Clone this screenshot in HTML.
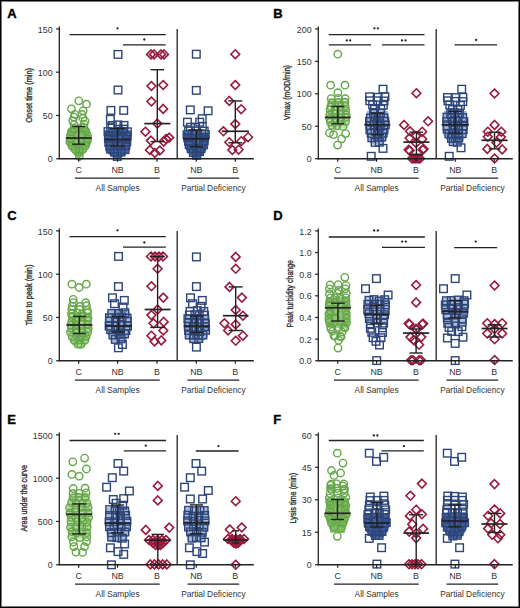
<!DOCTYPE html>
<html><head><meta charset="utf-8"><style>
html,body{margin:0;padding:0;background:#fff;}
svg{display:block;}
text{font-family:"Liberation Sans",sans-serif;}
</style></head><body>
<svg width="520" height="608" viewBox="0 0 520 608">
<g fill="none" stroke-width="1.4">
<rect x="0" y="0" width="520" height="608" fill="#fff" stroke="none"/>
<path d="M69.7 128.0L67.9 130.0L67.4 138.0L66.7 142.0L69.2 148.0L72.6 152.0L75.9 156.0L78.1 158.0L79.3 158.0L81.5 156.0L84.8 152.0L88.2 148.0L90.7 142.0L90.0 138.0L89.5 130.0L87.8 128.0Z" fill="#82bf64" stroke="#82bf64" stroke-width="1.5" stroke-linejoin="round" opacity="1.0"/>
<circle cx="74.8" cy="114.3" r="3.7" stroke="#66a64a"/>
<circle cx="82.0" cy="114.4" r="3.7" stroke="#66a64a"/>
<circle cx="73.9" cy="117.1" r="3.7" stroke="#66a64a"/>
<circle cx="82.9" cy="118.2" r="3.7" stroke="#66a64a"/>
<circle cx="72.8" cy="120.8" r="3.7" stroke="#66a64a"/>
<circle cx="85.0" cy="121.1" r="3.7" stroke="#66a64a"/>
<circle cx="74.1" cy="124.6" r="3.7" stroke="#66a64a"/>
<circle cx="84.1" cy="124.1" r="3.7" stroke="#66a64a"/>
<circle cx="74.2" cy="128.6" r="3.7" stroke="#66a64a"/>
<circle cx="78.7" cy="128.4" r="3.7" stroke="#66a64a"/>
<circle cx="83.7" cy="127.5" r="3.7" stroke="#66a64a"/>
<circle cx="72.0" cy="131.7" r="3.7" stroke="#66a64a"/>
<circle cx="85.5" cy="130.9" r="3.7" stroke="#66a64a"/>
<circle cx="70.5" cy="135.3" r="3.7" stroke="#66a64a"/>
<circle cx="87.5" cy="135.3" r="3.7" stroke="#66a64a"/>
<circle cx="82.1" cy="134.9" r="3.7" stroke="#66a64a"/>
<circle cx="70.8" cy="138.4" r="3.7" stroke="#66a64a"/>
<circle cx="87.8" cy="139.0" r="3.7" stroke="#66a64a"/>
<circle cx="69.8" cy="141.9" r="3.7" stroke="#66a64a"/>
<circle cx="86.5" cy="142.2" r="3.7" stroke="#66a64a"/>
<circle cx="76.4" cy="142.4" r="3.7" stroke="#66a64a"/>
<circle cx="71.9" cy="145.9" r="3.7" stroke="#66a64a"/>
<circle cx="85.5" cy="145.4" r="3.7" stroke="#66a64a"/>
<circle cx="75.1" cy="149.4" r="3.7" stroke="#66a64a"/>
<circle cx="82.8" cy="149.5" r="3.7" stroke="#66a64a"/>
<circle cx="79.3" cy="149.5" r="3.7" stroke="#66a64a"/>
<circle cx="79.0" cy="151.8" r="3.7" stroke="#66a64a"/>
<circle cx="79.3" cy="156.4" r="3.7" stroke="#66a64a"/>
<circle cx="78.8" cy="100.8" r="3.7" stroke="#66a64a"/>
<circle cx="86.5" cy="104.2" r="3.7" stroke="#66a64a"/>
<circle cx="71.5" cy="108.8" r="3.7" stroke="#66a64a"/>
<circle cx="83.1" cy="110.8" r="3.7" stroke="#66a64a"/>
<line x1="78.70" y1="126.50" x2="78.70" y2="144.20" stroke="#222" stroke-width="1.4"/>
<line x1="72.20" y1="126.50" x2="85.20" y2="126.50" stroke="#222" stroke-width="1.4"/>
<line x1="72.20" y1="144.20" x2="85.20" y2="144.20" stroke="#222" stroke-width="1.4"/>
<line x1="65.70" y1="138.00" x2="91.70" y2="138.00" stroke="#222" stroke-width="1.7"/>
<path d="M105.2 131.0L104.8 138.0L106.3 141.0L106.3 150.0L108.3 153.0L113.3 156.0L115.8 158.0L119.4 158.0L121.9 156.0L126.9 153.0L128.9 150.0L128.9 141.0L130.4 138.0L130.0 131.0Z" fill="#42619d" stroke="#42619d" stroke-width="1.5" stroke-linejoin="round" opacity="1.0"/>
<rect x="108.5" y="121.6" width="7.6" height="7.6" stroke="#2d4579"/>
<rect x="114.1" y="121.1" width="7.6" height="7.6" stroke="#2d4579"/>
<rect x="120.2" y="121.6" width="7.6" height="7.6" stroke="#2d4579"/>
<rect x="106.8" y="124.3" width="7.6" height="7.6" stroke="#2d4579"/>
<rect x="114.4" y="125.5" width="7.6" height="7.6" stroke="#2d4579"/>
<rect x="119.8" y="125.3" width="7.6" height="7.6" stroke="#2d4579"/>
<rect x="104.2" y="127.8" width="7.6" height="7.6" stroke="#2d4579"/>
<rect x="108.8" y="128.6" width="7.6" height="7.6" stroke="#2d4579"/>
<rect x="114.4" y="127.6" width="7.6" height="7.6" stroke="#2d4579"/>
<rect x="118.7" y="127.6" width="7.6" height="7.6" stroke="#2d4579"/>
<rect x="123.6" y="128.0" width="7.6" height="7.6" stroke="#2d4579"/>
<rect x="104.8" y="132.3" width="7.6" height="7.6" stroke="#2d4579"/>
<rect x="123.4" y="132.3" width="7.6" height="7.6" stroke="#2d4579"/>
<rect x="104.6" y="134.5" width="7.6" height="7.6" stroke="#2d4579"/>
<rect x="122.3" y="135.6" width="7.6" height="7.6" stroke="#2d4579"/>
<rect x="114.6" y="134.7" width="7.6" height="7.6" stroke="#2d4579"/>
<rect x="105.0" y="138.7" width="7.6" height="7.6" stroke="#2d4579"/>
<rect x="123.0" y="138.2" width="7.6" height="7.6" stroke="#2d4579"/>
<rect x="106.1" y="142.3" width="7.6" height="7.6" stroke="#2d4579"/>
<rect x="122.0" y="141.7" width="7.6" height="7.6" stroke="#2d4579"/>
<rect x="116.6" y="142.0" width="7.6" height="7.6" stroke="#2d4579"/>
<rect x="106.6" y="145.2" width="7.6" height="7.6" stroke="#2d4579"/>
<rect x="121.3" y="145.8" width="7.6" height="7.6" stroke="#2d4579"/>
<rect x="110.7" y="148.4" width="7.6" height="7.6" stroke="#2d4579"/>
<rect x="117.2" y="148.2" width="7.6" height="7.6" stroke="#2d4579"/>
<rect x="113.5" y="152.6" width="7.6" height="7.6" stroke="#2d4579"/>
<rect x="114.2" y="50.6" width="7.6" height="7.6" stroke="#2d4579"/>
<rect x="114.2" y="86.2" width="7.6" height="7.6" stroke="#2d4579"/>
<rect x="107.1" y="106.6" width="7.6" height="7.6" stroke="#2d4579"/>
<rect x="119.9" y="106.6" width="7.6" height="7.6" stroke="#2d4579"/>
<rect x="106.6" y="115.5" width="7.6" height="7.6" stroke="#2d4579"/>
<line x1="117.60" y1="128.40" x2="117.60" y2="146.00" stroke="#222" stroke-width="1.4"/>
<line x1="110.40" y1="128.40" x2="124.80" y2="128.40" stroke="#222" stroke-width="1.4"/>
<line x1="110.40" y1="146.00" x2="124.80" y2="146.00" stroke="#222" stroke-width="1.4"/>
<line x1="104.60" y1="139.60" x2="130.60" y2="139.60" stroke="#222" stroke-width="1.7"/>
<path d="M151.0 50.0L155.4 54.4L151.0 58.8L146.6 54.4Z" stroke="#961b3c" stroke-width="1.6"/>
<path d="M154.0 50.0L158.4 54.4L154.0 58.8L149.6 54.4Z" stroke="#961b3c" stroke-width="1.6"/>
<path d="M161.0 50.0L165.4 54.4L161.0 58.8L156.6 54.4Z" stroke="#961b3c" stroke-width="1.6"/>
<path d="M164.0 50.0L168.4 54.4L164.0 58.8L159.6 54.4Z" stroke="#961b3c" stroke-width="1.6"/>
<path d="M151.4 81.6L155.8 86.0L151.4 90.4L147.0 86.0Z" stroke="#961b3c" stroke-width="1.6"/>
<path d="M163.2 80.6L167.6 85.0L163.2 89.4L158.8 85.0Z" stroke="#961b3c" stroke-width="1.6"/>
<path d="M151.4 97.1L155.8 101.5L151.4 105.9L147.0 101.5Z" stroke="#961b3c" stroke-width="1.6"/>
<path d="M163.2 104.5L167.6 108.9L163.2 113.3L158.8 108.9Z" stroke="#961b3c" stroke-width="1.6"/>
<path d="M157.3 119.2L161.7 123.6L157.3 128.0L152.9 123.6Z" stroke="#961b3c" stroke-width="1.6"/>
<path d="M145.4 127.3L149.8 131.7L145.4 136.1L141.0 131.7Z" stroke="#961b3c" stroke-width="1.6"/>
<path d="M150.9 136.2L155.3 140.6L150.9 145.0L146.5 140.6Z" stroke="#961b3c" stroke-width="1.6"/>
<path d="M163.7 137.2L168.1 141.6L163.7 146.0L159.3 141.6Z" stroke="#961b3c" stroke-width="1.6"/>
<path d="M169.2 133.2L173.6 137.6L169.2 142.0L164.8 137.6Z" stroke="#961b3c" stroke-width="1.6"/>
<path d="M149.9 145.6L154.3 150.0L149.9 154.4L145.5 150.0Z" stroke="#961b3c" stroke-width="1.6"/>
<path d="M154.8 148.6L159.2 153.0L154.8 157.4L150.4 153.0Z" stroke="#961b3c" stroke-width="1.6"/>
<path d="M159.8 146.1L164.2 150.5L159.8 154.9L155.4 150.5Z" stroke="#961b3c" stroke-width="1.6"/>
<path d="M166.0 134.6L170.4 139.0L166.0 143.4L161.6 139.0Z" stroke="#961b3c" stroke-width="1.6"/>
<line x1="157.30" y1="69.70" x2="157.30" y2="141.60" stroke="#222" stroke-width="1.4"/>
<line x1="150.60" y1="69.70" x2="164.00" y2="69.70" stroke="#222" stroke-width="1.4"/>
<line x1="150.60" y1="141.60" x2="164.00" y2="141.60" stroke="#222" stroke-width="1.4"/>
<line x1="144.30" y1="123.60" x2="170.30" y2="123.60" stroke="#222" stroke-width="1.7"/>
<path d="M184.3 133.0L184.3 138.0L185.5 142.0L187.0 150.0L191.0 155.0L193.5 158.0L199.1 158.0L201.6 155.0L205.6 150.0L207.1 142.0L208.3 138.0L208.3 133.0Z" fill="#42619d" stroke="#42619d" stroke-width="1.5" stroke-linejoin="round" opacity="1.0"/>
<rect x="186.6" y="123.5" width="7.6" height="7.6" stroke="#2d4579"/>
<rect x="191.7" y="123.4" width="7.6" height="7.6" stroke="#2d4579"/>
<rect x="198.5" y="122.8" width="7.6" height="7.6" stroke="#2d4579"/>
<rect x="184.8" y="127.2" width="7.6" height="7.6" stroke="#2d4579"/>
<rect x="191.8" y="127.2" width="7.6" height="7.6" stroke="#2d4579"/>
<rect x="200.4" y="127.3" width="7.6" height="7.6" stroke="#2d4579"/>
<rect x="183.2" y="130.9" width="7.6" height="7.6" stroke="#2d4579"/>
<rect x="188.3" y="129.9" width="7.6" height="7.6" stroke="#2d4579"/>
<rect x="191.8" y="130.8" width="7.6" height="7.6" stroke="#2d4579"/>
<rect x="197.8" y="130.2" width="7.6" height="7.6" stroke="#2d4579"/>
<rect x="201.5" y="130.7" width="7.6" height="7.6" stroke="#2d4579"/>
<rect x="183.9" y="134.0" width="7.6" height="7.6" stroke="#2d4579"/>
<rect x="200.5" y="134.0" width="7.6" height="7.6" stroke="#2d4579"/>
<rect x="184.7" y="137.5" width="7.6" height="7.6" stroke="#2d4579"/>
<rect x="200.4" y="137.0" width="7.6" height="7.6" stroke="#2d4579"/>
<rect x="195.1" y="138.0" width="7.6" height="7.6" stroke="#2d4579"/>
<rect x="185.4" y="140.9" width="7.6" height="7.6" stroke="#2d4579"/>
<rect x="199.8" y="140.9" width="7.6" height="7.6" stroke="#2d4579"/>
<rect x="187.4" y="145.0" width="7.6" height="7.6" stroke="#2d4579"/>
<rect x="197.2" y="145.0" width="7.6" height="7.6" stroke="#2d4579"/>
<rect x="193.2" y="145.1" width="7.6" height="7.6" stroke="#2d4579"/>
<rect x="189.5" y="148.8" width="7.6" height="7.6" stroke="#2d4579"/>
<rect x="195.8" y="147.8" width="7.6" height="7.6" stroke="#2d4579"/>
<rect x="192.9" y="151.5" width="7.6" height="7.6" stroke="#2d4579"/>
<rect x="192.5" y="50.4" width="7.6" height="7.6" stroke="#2d4579"/>
<rect x="192.5" y="86.6" width="7.6" height="7.6" stroke="#2d4579"/>
<rect x="186.5" y="106.1" width="7.6" height="7.6" stroke="#2d4579"/>
<rect x="204.3" y="107.0" width="7.6" height="7.6" stroke="#2d4579"/>
<rect x="198.4" y="114.9" width="7.6" height="7.6" stroke="#2d4579"/>
<rect x="183.6" y="118.4" width="7.6" height="7.6" stroke="#2d4579"/>
<rect x="195.9" y="118.4" width="7.6" height="7.6" stroke="#2d4579"/>
<line x1="196.30" y1="130.00" x2="196.30" y2="146.70" stroke="#222" stroke-width="1.4"/>
<line x1="189.80" y1="130.00" x2="202.80" y2="130.00" stroke="#222" stroke-width="1.4"/>
<line x1="189.80" y1="146.70" x2="202.80" y2="146.70" stroke="#222" stroke-width="1.4"/>
<line x1="183.30" y1="138.90" x2="209.30" y2="138.90" stroke="#222" stroke-width="1.7"/>
<path d="M235.3 49.8L239.7 54.2L235.3 58.6L230.9 54.2Z" stroke="#961b3c" stroke-width="1.6"/>
<path d="M235.3 80.6L239.7 85.0L235.3 89.4L230.9 85.0Z" stroke="#961b3c" stroke-width="1.6"/>
<path d="M229.3 96.5L233.7 100.9L229.3 105.3L224.9 100.9Z" stroke="#961b3c" stroke-width="1.6"/>
<path d="M241.2 104.8L245.6 109.2L241.2 113.6L236.8 109.2Z" stroke="#961b3c" stroke-width="1.6"/>
<path d="M235.3 119.6L239.7 124.0L235.3 128.4L230.9 124.0Z" stroke="#961b3c" stroke-width="1.6"/>
<path d="M223.4 126.9L227.8 131.3L223.4 135.7L219.0 131.3Z" stroke="#961b3c" stroke-width="1.6"/>
<path d="M248.1 132.8L252.5 137.2L248.1 141.6L243.7 137.2Z" stroke="#961b3c" stroke-width="1.6"/>
<path d="M229.3 137.8L233.7 142.2L229.3 146.6L224.9 142.2Z" stroke="#961b3c" stroke-width="1.6"/>
<path d="M241.2 136.8L245.6 141.2L241.2 145.6L236.8 141.2Z" stroke="#961b3c" stroke-width="1.6"/>
<path d="M232.3 145.6L236.7 150.0L232.3 154.4L227.9 150.0Z" stroke="#961b3c" stroke-width="1.6"/>
<path d="M238.6 145.3L243.0 149.7L238.6 154.1L234.2 149.7Z" stroke="#961b3c" stroke-width="1.6"/>
<line x1="235.30" y1="100.90" x2="235.30" y2="142.80" stroke="#222" stroke-width="1.4"/>
<line x1="228.30" y1="100.90" x2="242.30" y2="100.90" stroke="#222" stroke-width="1.4"/>
<line x1="228.30" y1="142.80" x2="242.30" y2="142.80" stroke="#222" stroke-width="1.4"/>
<line x1="221.80" y1="131.30" x2="248.80" y2="131.30" stroke="#222" stroke-width="1.7"/>
<text x="7.20" y="18.40" font-size="13" text-anchor="start" font-weight="bold" fill="#000" stroke="#000" stroke-width="0.35">A</text>
<line x1="59.30" y1="26.40" x2="59.30" y2="159.35" stroke="#222" stroke-width="1.3"/>
<line x1="58.70" y1="158.75" x2="253.80" y2="158.75" stroke="#222" stroke-width="1.3"/>
<line x1="56.10" y1="158.75" x2="59.30" y2="158.75" stroke="#222" stroke-width="1.2"/>
<text x="52.60" y="162.35" font-size="8.9" text-anchor="end" font-weight="normal" fill="#333" >0</text>
<line x1="56.10" y1="115.47" x2="59.30" y2="115.47" stroke="#222" stroke-width="1.2"/>
<text x="52.60" y="119.07" font-size="8.9" text-anchor="end" font-weight="normal" fill="#333" >50</text>
<line x1="56.10" y1="72.18" x2="59.30" y2="72.18" stroke="#222" stroke-width="1.2"/>
<text x="52.60" y="75.78" font-size="8.9" text-anchor="end" font-weight="normal" fill="#333" >100</text>
<line x1="56.10" y1="28.90" x2="59.30" y2="28.90" stroke="#222" stroke-width="1.2"/>
<text x="52.60" y="32.50" font-size="8.9" text-anchor="end" font-weight="normal" fill="#333" >150</text>
<line x1="78.70" y1="158.75" x2="78.70" y2="161.75" stroke="#222" stroke-width="1.2"/>
<text x="78.70" y="172.60" font-size="8.9" text-anchor="middle" font-weight="normal" fill="#333" >C</text>
<line x1="117.60" y1="158.75" x2="117.60" y2="161.75" stroke="#222" stroke-width="1.2"/>
<text x="117.60" y="172.60" font-size="8.9" text-anchor="middle" font-weight="normal" fill="#333" >NB</text>
<line x1="157.00" y1="158.75" x2="157.00" y2="161.75" stroke="#222" stroke-width="1.2"/>
<text x="157.00" y="172.60" font-size="8.9" text-anchor="middle" font-weight="normal" fill="#333" >B</text>
<line x1="196.30" y1="158.75" x2="196.30" y2="161.75" stroke="#222" stroke-width="1.2"/>
<text x="196.30" y="172.60" font-size="8.9" text-anchor="middle" font-weight="normal" fill="#333" >NB</text>
<line x1="235.30" y1="158.75" x2="235.30" y2="161.75" stroke="#222" stroke-width="1.2"/>
<text x="235.30" y="172.60" font-size="8.9" text-anchor="middle" font-weight="normal" fill="#333" >B</text>
<line x1="177.20" y1="28.90" x2="177.20" y2="158.75" stroke="#222" stroke-width="1.3"/>
<line x1="75.00" y1="178.10" x2="159.70" y2="178.10" stroke="#222" stroke-width="1.3"/>
<text x="117.60" y="191.30" font-size="8.35" text-anchor="middle" font-weight="normal" fill="#333" >All Samples</text>
<line x1="187.50" y1="178.10" x2="239.20" y2="178.10" stroke="#222" stroke-width="1.3"/>
<text x="213.40" y="191.30" font-size="8.35" text-anchor="middle" font-weight="normal" fill="#333" >Partial Deficiency</text>
<text transform="translate(32.30,95.30) rotate(-90)" font-size="9.4" text-anchor="middle" fill="#333" stroke="#333" stroke-width="0.35" textLength="54.7" lengthAdjust="spacingAndGlyphs">Onset time (min)</text>
<line x1="69.50" y1="34.60" x2="165.70" y2="34.60" stroke="#222" stroke-width="1.3"/>
<circle cx="117.5" cy="28.3" r="1.15" fill="#222"/>
<line x1="123.00" y1="44.90" x2="165.70" y2="44.90" stroke="#222" stroke-width="1.3"/>
<circle cx="144.3" cy="39.5" r="1.15" fill="#222"/>
<path d="M328.3 99.0L328.5 100.0L327.2 108.0L326.6 117.0L327.2 125.0L329.2 128.0L346.4 128.0L348.4 125.0L349.0 117.0L348.4 108.0L347.1 100.0L347.3 99.0Z" fill="#9fcf85" stroke="#9fcf85" stroke-width="1.5" stroke-linejoin="round" opacity="0.6"/>
<circle cx="331.2" cy="98.6" r="3.7" stroke="#66a64a"/>
<circle cx="338.3" cy="98.3" r="3.7" stroke="#66a64a"/>
<circle cx="345.2" cy="98.7" r="3.7" stroke="#66a64a"/>
<circle cx="331.8" cy="102.9" r="3.7" stroke="#66a64a"/>
<circle cx="338.4" cy="102.5" r="3.7" stroke="#66a64a"/>
<circle cx="344.9" cy="102.2" r="3.7" stroke="#66a64a"/>
<circle cx="330.8" cy="106.7" r="3.7" stroke="#66a64a"/>
<circle cx="335.3" cy="106.6" r="3.7" stroke="#66a64a"/>
<circle cx="340.7" cy="106.5" r="3.7" stroke="#66a64a"/>
<circle cx="345.2" cy="106.3" r="3.7" stroke="#66a64a"/>
<circle cx="330.1" cy="109.8" r="3.7" stroke="#66a64a"/>
<circle cx="335.1" cy="110.0" r="3.7" stroke="#66a64a"/>
<circle cx="340.4" cy="110.9" r="3.7" stroke="#66a64a"/>
<circle cx="345.8" cy="110.4" r="3.7" stroke="#66a64a"/>
<circle cx="329.8" cy="114.9" r="3.7" stroke="#66a64a"/>
<circle cx="335.5" cy="113.6" r="3.7" stroke="#66a64a"/>
<circle cx="340.4" cy="114.6" r="3.7" stroke="#66a64a"/>
<circle cx="346.2" cy="114.9" r="3.7" stroke="#66a64a"/>
<circle cx="329.7" cy="118.7" r="3.7" stroke="#66a64a"/>
<circle cx="335.7" cy="118.6" r="3.7" stroke="#66a64a"/>
<circle cx="341.3" cy="117.6" r="3.7" stroke="#66a64a"/>
<circle cx="345.5" cy="117.5" r="3.7" stroke="#66a64a"/>
<circle cx="330.4" cy="122.0" r="3.7" stroke="#66a64a"/>
<circle cx="334.7" cy="122.5" r="3.7" stroke="#66a64a"/>
<circle cx="340.3" cy="121.3" r="3.7" stroke="#66a64a"/>
<circle cx="345.6" cy="121.4" r="3.7" stroke="#66a64a"/>
<circle cx="332.0" cy="125.4" r="3.7" stroke="#66a64a"/>
<circle cx="337.0" cy="125.8" r="3.7" stroke="#66a64a"/>
<circle cx="342.9" cy="126.4" r="3.7" stroke="#66a64a"/>
<circle cx="330.6" cy="85.2" r="3.7" stroke="#66a64a"/>
<circle cx="345.0" cy="85.2" r="3.7" stroke="#66a64a"/>
<circle cx="337.9" cy="92.7" r="3.7" stroke="#66a64a"/>
<circle cx="337.8" cy="54.2" r="3.7" stroke="#66a64a"/>
<circle cx="329.5" cy="133.0" r="3.7" stroke="#66a64a"/>
<circle cx="345.6" cy="133.6" r="3.7" stroke="#66a64a"/>
<circle cx="333.5" cy="134.7" r="3.7" stroke="#66a64a"/>
<circle cx="341.6" cy="138.8" r="3.7" stroke="#66a64a"/>
<circle cx="337.6" cy="145.1" r="3.7" stroke="#66a64a"/>
<line x1="337.80" y1="106.50" x2="337.80" y2="123.80" stroke="#222" stroke-width="1.4"/>
<line x1="331.50" y1="106.50" x2="344.10" y2="106.50" stroke="#222" stroke-width="1.4"/>
<line x1="331.50" y1="123.80" x2="344.10" y2="123.80" stroke="#222" stroke-width="1.4"/>
<line x1="324.80" y1="117.40" x2="350.80" y2="117.40" stroke="#222" stroke-width="1.7"/>
<path d="M369.9 111.0L367.3 112.0L366.0 125.0L367.5 135.0L369.0 140.0L372.5 144.0L382.1 144.0L385.6 140.0L387.1 135.0L388.6 125.0L387.3 112.0L384.7 111.0Z" fill="#6482b8" stroke="#6482b8" stroke-width="1.5" stroke-linejoin="round" opacity="0.6"/>
<rect x="365.8" y="93.0" width="7.6" height="7.6" stroke="#2d4579"/>
<rect x="374.3" y="93.5" width="7.6" height="7.6" stroke="#2d4579"/>
<rect x="381.1" y="92.9" width="7.6" height="7.6" stroke="#2d4579"/>
<rect x="366.0" y="97.0" width="7.6" height="7.6" stroke="#2d4579"/>
<rect x="374.1" y="97.0" width="7.6" height="7.6" stroke="#2d4579"/>
<rect x="380.2" y="97.2" width="7.6" height="7.6" stroke="#2d4579"/>
<rect x="368.8" y="101.0" width="7.6" height="7.6" stroke="#2d4579"/>
<rect x="379.5" y="101.5" width="7.6" height="7.6" stroke="#2d4579"/>
<rect x="370.7" y="105.5" width="7.6" height="7.6" stroke="#2d4579"/>
<rect x="376.9" y="105.2" width="7.6" height="7.6" stroke="#2d4579"/>
<rect x="369.8" y="109.7" width="7.6" height="7.6" stroke="#2d4579"/>
<rect x="376.7" y="109.4" width="7.6" height="7.6" stroke="#2d4579"/>
<rect x="366.6" y="114.2" width="7.6" height="7.6" stroke="#2d4579"/>
<rect x="371.5" y="113.0" width="7.6" height="7.6" stroke="#2d4579"/>
<rect x="375.2" y="113.7" width="7.6" height="7.6" stroke="#2d4579"/>
<rect x="380.1" y="114.0" width="7.6" height="7.6" stroke="#2d4579"/>
<rect x="365.7" y="117.7" width="7.6" height="7.6" stroke="#2d4579"/>
<rect x="370.4" y="117.1" width="7.6" height="7.6" stroke="#2d4579"/>
<rect x="375.9" y="117.6" width="7.6" height="7.6" stroke="#2d4579"/>
<rect x="381.0" y="117.4" width="7.6" height="7.6" stroke="#2d4579"/>
<rect x="366.4" y="121.7" width="7.6" height="7.6" stroke="#2d4579"/>
<rect x="370.3" y="121.1" width="7.6" height="7.6" stroke="#2d4579"/>
<rect x="376.5" y="122.2" width="7.6" height="7.6" stroke="#2d4579"/>
<rect x="381.5" y="121.1" width="7.6" height="7.6" stroke="#2d4579"/>
<rect x="366.1" y="126.0" width="7.6" height="7.6" stroke="#2d4579"/>
<rect x="371.1" y="126.0" width="7.6" height="7.6" stroke="#2d4579"/>
<rect x="375.2" y="126.3" width="7.6" height="7.6" stroke="#2d4579"/>
<rect x="380.1" y="126.0" width="7.6" height="7.6" stroke="#2d4579"/>
<rect x="367.4" y="129.6" width="7.6" height="7.6" stroke="#2d4579"/>
<rect x="374.2" y="129.7" width="7.6" height="7.6" stroke="#2d4579"/>
<rect x="379.2" y="129.4" width="7.6" height="7.6" stroke="#2d4579"/>
<rect x="368.0" y="134.0" width="7.6" height="7.6" stroke="#2d4579"/>
<rect x="374.0" y="133.5" width="7.6" height="7.6" stroke="#2d4579"/>
<rect x="378.0" y="133.2" width="7.6" height="7.6" stroke="#2d4579"/>
<rect x="371.3" y="138.6" width="7.6" height="7.6" stroke="#2d4579"/>
<rect x="375.5" y="138.4" width="7.6" height="7.6" stroke="#2d4579"/>
<rect x="379.2" y="85.4" width="7.6" height="7.6" stroke="#2d4579"/>
<rect x="379.2" y="144.6" width="7.6" height="7.6" stroke="#2d4579"/>
<rect x="367.4" y="152.5" width="7.6" height="7.6" stroke="#2d4579"/>
<line x1="377.30" y1="113.10" x2="377.30" y2="134.90" stroke="#222" stroke-width="1.4"/>
<line x1="370.80" y1="113.10" x2="383.80" y2="113.10" stroke="#222" stroke-width="1.4"/>
<line x1="370.80" y1="134.90" x2="383.80" y2="134.90" stroke="#222" stroke-width="1.4"/>
<line x1="364.30" y1="124.70" x2="390.30" y2="124.70" stroke="#222" stroke-width="1.7"/>
<path d="M416.4 88.8L420.8 93.2L416.4 97.6L412.0 93.2Z" stroke="#961b3c" stroke-width="1.6"/>
<path d="M404.1 120.5L408.5 124.9L404.1 129.3L399.7 124.9Z" stroke="#961b3c" stroke-width="1.6"/>
<path d="M428.1 116.9L432.5 121.3L428.1 125.7L423.7 121.3Z" stroke="#961b3c" stroke-width="1.6"/>
<path d="M410.0 126.9L414.4 131.3L410.0 135.7L405.6 131.3Z" stroke="#961b3c" stroke-width="1.6"/>
<path d="M422.2 127.3L426.6 131.7L422.2 136.1L417.8 131.7Z" stroke="#961b3c" stroke-width="1.6"/>
<path d="M409.6 133.7L414.0 138.1L409.6 142.5L405.2 138.1Z" stroke="#961b3c" stroke-width="1.6"/>
<path d="M422.2 134.6L426.6 139.0L422.2 143.4L417.8 139.0Z" stroke="#961b3c" stroke-width="1.6"/>
<path d="M408.7 145.4L413.1 149.8L408.7 154.2L404.3 149.8Z" stroke="#961b3c" stroke-width="1.6"/>
<path d="M409.7 146.2L414.1 150.6L409.7 155.0L405.3 150.6Z" stroke="#961b3c" stroke-width="1.6"/>
<path d="M423.6 144.5L428.0 148.9L423.6 153.3L419.2 148.9Z" stroke="#961b3c" stroke-width="1.6"/>
<path d="M422.6 145.3L427.0 149.7L422.6 154.1L418.2 149.7Z" stroke="#961b3c" stroke-width="1.6"/>
<path d="M416.0 131.6L420.4 136.0L416.0 140.4L411.6 136.0Z" stroke="#961b3c" stroke-width="1.6"/>
<path d="M416.0 138.6L420.4 143.0L416.0 147.4L411.6 143.0Z" stroke="#961b3c" stroke-width="1.6"/>
<path d="M412.0 154.1L416.4 158.5L412.0 162.9L407.6 158.5Z" stroke="#961b3c" stroke-width="1.6"/>
<path d="M414.0 154.1L418.4 158.5L414.0 162.9L409.6 158.5Z" stroke="#961b3c" stroke-width="1.6"/>
<path d="M416.0 154.1L420.4 158.5L416.0 162.9L411.6 158.5Z" stroke="#961b3c" stroke-width="1.6"/>
<path d="M418.0 154.1L422.4 158.5L418.0 162.9L413.6 158.5Z" stroke="#961b3c" stroke-width="1.6"/>
<path d="M420.0 154.1L424.4 158.5L420.0 162.9L415.6 158.5Z" stroke="#961b3c" stroke-width="1.6"/>
<line x1="416.40" y1="132.20" x2="416.40" y2="154.80" stroke="#222" stroke-width="1.4"/>
<line x1="409.60" y1="132.20" x2="423.20" y2="132.20" stroke="#222" stroke-width="1.4"/>
<line x1="409.60" y1="154.80" x2="423.20" y2="154.80" stroke="#222" stroke-width="1.4"/>
<line x1="403.40" y1="142.10" x2="429.40" y2="142.10" stroke="#222" stroke-width="1.7"/>
<path d="M447.4 111.0L444.4 112.0L444.4 135.0L447.9 140.0L450.9 144.0L459.5 144.0L462.5 140.0L466.0 135.0L466.0 112.0L463.0 111.0Z" fill="#6482b8" stroke="#6482b8" stroke-width="1.5" stroke-linejoin="round" opacity="0.6"/>
<rect x="443.7" y="93.7" width="7.6" height="7.6" stroke="#2d4579"/>
<rect x="452.1" y="93.8" width="7.6" height="7.6" stroke="#2d4579"/>
<rect x="459.1" y="93.5" width="7.6" height="7.6" stroke="#2d4579"/>
<rect x="444.1" y="97.0" width="7.6" height="7.6" stroke="#2d4579"/>
<rect x="451.1" y="97.6" width="7.6" height="7.6" stroke="#2d4579"/>
<rect x="459.0" y="97.8" width="7.6" height="7.6" stroke="#2d4579"/>
<rect x="446.0" y="101.2" width="7.6" height="7.6" stroke="#2d4579"/>
<rect x="456.6" y="101.6" width="7.6" height="7.6" stroke="#2d4579"/>
<rect x="448.6" y="105.8" width="7.6" height="7.6" stroke="#2d4579"/>
<rect x="454.1" y="106.0" width="7.6" height="7.6" stroke="#2d4579"/>
<rect x="446.9" y="110.1" width="7.6" height="7.6" stroke="#2d4579"/>
<rect x="450.6" y="109.1" width="7.6" height="7.6" stroke="#2d4579"/>
<rect x="455.6" y="109.9" width="7.6" height="7.6" stroke="#2d4579"/>
<rect x="443.2" y="113.4" width="7.6" height="7.6" stroke="#2d4579"/>
<rect x="448.1" y="114.4" width="7.6" height="7.6" stroke="#2d4579"/>
<rect x="454.1" y="113.7" width="7.6" height="7.6" stroke="#2d4579"/>
<rect x="458.9" y="113.8" width="7.6" height="7.6" stroke="#2d4579"/>
<rect x="442.9" y="117.8" width="7.6" height="7.6" stroke="#2d4579"/>
<rect x="448.8" y="118.2" width="7.6" height="7.6" stroke="#2d4579"/>
<rect x="453.5" y="117.1" width="7.6" height="7.6" stroke="#2d4579"/>
<rect x="460.1" y="117.9" width="7.6" height="7.6" stroke="#2d4579"/>
<rect x="443.4" y="122.0" width="7.6" height="7.6" stroke="#2d4579"/>
<rect x="449.5" y="121.4" width="7.6" height="7.6" stroke="#2d4579"/>
<rect x="454.2" y="122.4" width="7.6" height="7.6" stroke="#2d4579"/>
<rect x="459.4" y="122.4" width="7.6" height="7.6" stroke="#2d4579"/>
<rect x="443.3" y="125.4" width="7.6" height="7.6" stroke="#2d4579"/>
<rect x="449.5" y="126.3" width="7.6" height="7.6" stroke="#2d4579"/>
<rect x="454.8" y="125.7" width="7.6" height="7.6" stroke="#2d4579"/>
<rect x="459.4" y="125.9" width="7.6" height="7.6" stroke="#2d4579"/>
<rect x="445.1" y="130.1" width="7.6" height="7.6" stroke="#2d4579"/>
<rect x="448.5" y="129.7" width="7.6" height="7.6" stroke="#2d4579"/>
<rect x="454.4" y="129.4" width="7.6" height="7.6" stroke="#2d4579"/>
<rect x="458.4" y="129.8" width="7.6" height="7.6" stroke="#2d4579"/>
<rect x="447.6" y="134.5" width="7.6" height="7.6" stroke="#2d4579"/>
<rect x="451.5" y="134.4" width="7.6" height="7.6" stroke="#2d4579"/>
<rect x="455.0" y="134.2" width="7.6" height="7.6" stroke="#2d4579"/>
<rect x="449.4" y="137.9" width="7.6" height="7.6" stroke="#2d4579"/>
<rect x="453.5" y="138.4" width="7.6" height="7.6" stroke="#2d4579"/>
<rect x="457.9" y="85.4" width="7.6" height="7.6" stroke="#2d4579"/>
<rect x="457.2" y="144.0" width="7.6" height="7.6" stroke="#2d4579"/>
<rect x="445.4" y="152.5" width="7.6" height="7.6" stroke="#2d4579"/>
<line x1="455.20" y1="111.50" x2="455.20" y2="133.00" stroke="#222" stroke-width="1.4"/>
<line x1="448.70" y1="111.50" x2="461.70" y2="111.50" stroke="#222" stroke-width="1.4"/>
<line x1="448.70" y1="133.00" x2="461.70" y2="133.00" stroke="#222" stroke-width="1.4"/>
<line x1="441.70" y1="124.70" x2="468.70" y2="124.70" stroke="#222" stroke-width="1.7"/>
<path d="M494.5 89.1L498.9 93.5L494.5 97.9L490.1 93.5Z" stroke="#961b3c" stroke-width="1.6"/>
<path d="M494.6 120.5L499.0 124.9L494.6 129.3L490.2 124.9Z" stroke="#961b3c" stroke-width="1.6"/>
<path d="M487.8 127.3L492.2 131.7L487.8 136.1L483.4 131.7Z" stroke="#961b3c" stroke-width="1.6"/>
<path d="M501.3 127.3L505.7 131.7L501.3 136.1L496.9 131.7Z" stroke="#961b3c" stroke-width="1.6"/>
<path d="M487.8 132.3L492.2 136.7L487.8 141.1L483.4 136.7Z" stroke="#961b3c" stroke-width="1.6"/>
<path d="M500.9 132.7L505.3 137.1L500.9 141.5L496.5 137.1Z" stroke="#961b3c" stroke-width="1.6"/>
<path d="M496.4 138.2L500.8 142.6L496.4 147.0L492.0 142.6Z" stroke="#961b3c" stroke-width="1.6"/>
<path d="M487.3 144.5L491.7 148.9L487.3 153.3L482.9 148.9Z" stroke="#961b3c" stroke-width="1.6"/>
<path d="M502.2 145.0L506.6 149.4L502.2 153.8L497.8 149.4Z" stroke="#961b3c" stroke-width="1.6"/>
<path d="M494.6 154.1L499.0 158.5L494.6 162.9L490.2 158.5Z" stroke="#961b3c" stroke-width="1.6"/>
<line x1="494.50" y1="132.20" x2="494.50" y2="148.90" stroke="#222" stroke-width="1.4"/>
<line x1="488.70" y1="132.20" x2="500.30" y2="132.20" stroke="#222" stroke-width="1.4"/>
<line x1="488.70" y1="148.90" x2="500.30" y2="148.90" stroke="#222" stroke-width="1.4"/>
<line x1="481.40" y1="140.30" x2="507.60" y2="140.30" stroke="#222" stroke-width="1.7"/>
<text x="273.20" y="18.40" font-size="13" text-anchor="start" font-weight="bold" fill="#000" stroke="#000" stroke-width="0.35">B</text>
<line x1="318.30" y1="26.40" x2="318.30" y2="159.35" stroke="#222" stroke-width="1.3"/>
<line x1="317.70" y1="158.75" x2="512.80" y2="158.75" stroke="#222" stroke-width="1.3"/>
<line x1="315.10" y1="158.75" x2="318.30" y2="158.75" stroke="#222" stroke-width="1.2"/>
<text x="311.60" y="162.35" font-size="8.9" text-anchor="end" font-weight="normal" fill="#333" >0</text>
<line x1="315.10" y1="126.29" x2="318.30" y2="126.29" stroke="#222" stroke-width="1.2"/>
<text x="311.60" y="129.89" font-size="8.9" text-anchor="end" font-weight="normal" fill="#333" >50</text>
<line x1="315.10" y1="93.83" x2="318.30" y2="93.83" stroke="#222" stroke-width="1.2"/>
<text x="311.60" y="97.42" font-size="8.9" text-anchor="end" font-weight="normal" fill="#333" >100</text>
<line x1="315.10" y1="61.36" x2="318.30" y2="61.36" stroke="#222" stroke-width="1.2"/>
<text x="311.60" y="64.96" font-size="8.9" text-anchor="end" font-weight="normal" fill="#333" >150</text>
<line x1="315.10" y1="28.90" x2="318.30" y2="28.90" stroke="#222" stroke-width="1.2"/>
<text x="311.60" y="32.50" font-size="8.9" text-anchor="end" font-weight="normal" fill="#333" >200</text>
<line x1="337.70" y1="158.75" x2="337.70" y2="161.75" stroke="#222" stroke-width="1.2"/>
<text x="337.70" y="172.60" font-size="8.9" text-anchor="middle" font-weight="normal" fill="#333" >C</text>
<line x1="376.60" y1="158.75" x2="376.60" y2="161.75" stroke="#222" stroke-width="1.2"/>
<text x="376.60" y="172.60" font-size="8.9" text-anchor="middle" font-weight="normal" fill="#333" >NB</text>
<line x1="416.00" y1="158.75" x2="416.00" y2="161.75" stroke="#222" stroke-width="1.2"/>
<text x="416.00" y="172.60" font-size="8.9" text-anchor="middle" font-weight="normal" fill="#333" >B</text>
<line x1="455.30" y1="158.75" x2="455.30" y2="161.75" stroke="#222" stroke-width="1.2"/>
<text x="455.30" y="172.60" font-size="8.9" text-anchor="middle" font-weight="normal" fill="#333" >NB</text>
<line x1="494.30" y1="158.75" x2="494.30" y2="161.75" stroke="#222" stroke-width="1.2"/>
<text x="494.30" y="172.60" font-size="8.9" text-anchor="middle" font-weight="normal" fill="#333" >B</text>
<line x1="436.20" y1="28.90" x2="436.20" y2="158.75" stroke="#222" stroke-width="1.3"/>
<line x1="334.00" y1="178.10" x2="418.70" y2="178.10" stroke="#222" stroke-width="1.3"/>
<text x="376.60" y="191.30" font-size="8.35" text-anchor="middle" font-weight="normal" fill="#333" >All Samples</text>
<line x1="446.50" y1="178.10" x2="498.20" y2="178.10" stroke="#222" stroke-width="1.3"/>
<text x="472.40" y="191.30" font-size="8.35" text-anchor="middle" font-weight="normal" fill="#333" >Partial Deficiency</text>
<text transform="translate(290.30,92.50) rotate(-90)" font-size="9.4" text-anchor="middle" fill="#333" stroke="#333" stroke-width="0.35" textLength="55" lengthAdjust="spacingAndGlyphs">Vmax (mOD/min)</text>
<line x1="328.75" y1="34.60" x2="424.50" y2="34.60" stroke="#222" stroke-width="1.3"/>
<circle cx="374.4" cy="28.3" r="1.15" fill="#222"/>
<circle cx="377.9" cy="28.3" r="1.15" fill="#222"/>
<line x1="328.75" y1="44.80" x2="371.00" y2="44.80" stroke="#222" stroke-width="1.3"/>
<circle cx="346.8" cy="40.4" r="1.15" fill="#222"/>
<circle cx="350.2" cy="40.4" r="1.15" fill="#222"/>
<line x1="382.00" y1="44.80" x2="424.50" y2="44.80" stroke="#222" stroke-width="1.3"/>
<circle cx="402.0" cy="40.4" r="1.15" fill="#222"/>
<circle cx="405.5" cy="40.4" r="1.15" fill="#222"/>
<line x1="454.50" y1="44.80" x2="497.00" y2="44.80" stroke="#222" stroke-width="1.3"/>
<circle cx="476.2" cy="40.0" r="1.15" fill="#222"/>
<path d="M68.6 313.0L68.8 318.0L67.7 325.0L68.4 335.0L70.8 342.0L74.6 346.0L74.6 347.0L84.2 347.0L84.2 346.0L88.0 342.0L90.4 335.0L91.1 325.0L90.0 318.0L90.2 313.0Z" fill="#9fcf85" stroke="#9fcf85" stroke-width="1.5" stroke-linejoin="round" opacity="0.85"/>
<circle cx="73.5" cy="302.6" r="3.7" stroke="#66a64a"/>
<circle cx="85.7" cy="302.7" r="3.7" stroke="#66a64a"/>
<circle cx="72.2" cy="306.1" r="3.7" stroke="#66a64a"/>
<circle cx="80.2" cy="306.5" r="3.7" stroke="#66a64a"/>
<circle cx="86.5" cy="305.7" r="3.7" stroke="#66a64a"/>
<circle cx="71.9" cy="309.4" r="3.7" stroke="#66a64a"/>
<circle cx="79.5" cy="309.4" r="3.7" stroke="#66a64a"/>
<circle cx="87.4" cy="310.3" r="3.7" stroke="#66a64a"/>
<circle cx="71.4" cy="313.8" r="3.7" stroke="#66a64a"/>
<circle cx="77.1" cy="313.1" r="3.7" stroke="#66a64a"/>
<circle cx="82.1" cy="314.1" r="3.7" stroke="#66a64a"/>
<circle cx="87.5" cy="312.9" r="3.7" stroke="#66a64a"/>
<circle cx="72.4" cy="316.7" r="3.7" stroke="#66a64a"/>
<circle cx="77.5" cy="317.7" r="3.7" stroke="#66a64a"/>
<circle cx="82.6" cy="316.7" r="3.7" stroke="#66a64a"/>
<circle cx="87.9" cy="317.9" r="3.7" stroke="#66a64a"/>
<circle cx="71.8" cy="321.5" r="3.7" stroke="#66a64a"/>
<circle cx="76.1" cy="320.7" r="3.7" stroke="#66a64a"/>
<circle cx="81.6" cy="321.7" r="3.7" stroke="#66a64a"/>
<circle cx="87.7" cy="320.6" r="3.7" stroke="#66a64a"/>
<circle cx="71.1" cy="325.1" r="3.7" stroke="#66a64a"/>
<circle cx="75.8" cy="325.5" r="3.7" stroke="#66a64a"/>
<circle cx="81.7" cy="324.3" r="3.7" stroke="#66a64a"/>
<circle cx="87.4" cy="324.3" r="3.7" stroke="#66a64a"/>
<circle cx="71.4" cy="328.1" r="3.7" stroke="#66a64a"/>
<circle cx="76.2" cy="329.2" r="3.7" stroke="#66a64a"/>
<circle cx="81.5" cy="328.6" r="3.7" stroke="#66a64a"/>
<circle cx="88.2" cy="328.4" r="3.7" stroke="#66a64a"/>
<circle cx="70.5" cy="332.2" r="3.7" stroke="#66a64a"/>
<circle cx="76.5" cy="331.9" r="3.7" stroke="#66a64a"/>
<circle cx="82.4" cy="332.8" r="3.7" stroke="#66a64a"/>
<circle cx="87.6" cy="331.9" r="3.7" stroke="#66a64a"/>
<circle cx="72.2" cy="336.8" r="3.7" stroke="#66a64a"/>
<circle cx="76.4" cy="336.1" r="3.7" stroke="#66a64a"/>
<circle cx="81.6" cy="336.3" r="3.7" stroke="#66a64a"/>
<circle cx="85.9" cy="336.3" r="3.7" stroke="#66a64a"/>
<circle cx="74.5" cy="340.3" r="3.7" stroke="#66a64a"/>
<circle cx="79.2" cy="339.9" r="3.7" stroke="#66a64a"/>
<circle cx="84.9" cy="340.2" r="3.7" stroke="#66a64a"/>
<circle cx="78.1" cy="344.2" r="3.7" stroke="#66a64a"/>
<circle cx="80.8" cy="344.4" r="3.7" stroke="#66a64a"/>
<circle cx="71.9" cy="284.2" r="3.7" stroke="#66a64a"/>
<circle cx="79.1" cy="287.5" r="3.7" stroke="#66a64a"/>
<circle cx="86.3" cy="284.2" r="3.7" stroke="#66a64a"/>
<circle cx="73.2" cy="299.3" r="3.7" stroke="#66a64a"/>
<line x1="79.40" y1="316.40" x2="79.40" y2="333.60" stroke="#222" stroke-width="1.4"/>
<line x1="73.10" y1="316.40" x2="85.70" y2="316.40" stroke="#222" stroke-width="1.4"/>
<line x1="73.10" y1="333.60" x2="85.70" y2="333.60" stroke="#222" stroke-width="1.4"/>
<line x1="66.40" y1="325.00" x2="92.40" y2="325.00" stroke="#222" stroke-width="1.7"/>
<path d="M109.2 310.0L109.2 311.0L106.7 315.0L106.7 330.0L108.7 335.0L112.4 341.0L112.4 342.0L124.6 342.0L124.6 341.0L128.3 335.0L130.3 330.0L130.3 315.0L127.8 311.0L127.8 310.0Z" fill="#6482b8" stroke="#6482b8" stroke-width="1.5" stroke-linejoin="round" opacity="0.55"/>
<rect x="108.0" y="309.6" width="7.6" height="7.6" stroke="#2d4579"/>
<rect x="114.7" y="309.7" width="7.6" height="7.6" stroke="#2d4579"/>
<rect x="121.1" y="308.9" width="7.6" height="7.6" stroke="#2d4579"/>
<rect x="105.6" y="314.0" width="7.6" height="7.6" stroke="#2d4579"/>
<rect x="112.2" y="313.9" width="7.6" height="7.6" stroke="#2d4579"/>
<rect x="118.0" y="313.2" width="7.6" height="7.6" stroke="#2d4579"/>
<rect x="123.3" y="314.3" width="7.6" height="7.6" stroke="#2d4579"/>
<rect x="105.7" y="317.4" width="7.6" height="7.6" stroke="#2d4579"/>
<rect x="111.8" y="318.5" width="7.6" height="7.6" stroke="#2d4579"/>
<rect x="117.9" y="318.2" width="7.6" height="7.6" stroke="#2d4579"/>
<rect x="123.5" y="317.7" width="7.6" height="7.6" stroke="#2d4579"/>
<rect x="105.3" y="322.2" width="7.6" height="7.6" stroke="#2d4579"/>
<rect x="112.2" y="322.5" width="7.6" height="7.6" stroke="#2d4579"/>
<rect x="117.0" y="321.8" width="7.6" height="7.6" stroke="#2d4579"/>
<rect x="123.7" y="322.3" width="7.6" height="7.6" stroke="#2d4579"/>
<rect x="106.8" y="325.9" width="7.6" height="7.6" stroke="#2d4579"/>
<rect x="111.8" y="325.8" width="7.6" height="7.6" stroke="#2d4579"/>
<rect x="116.7" y="326.4" width="7.6" height="7.6" stroke="#2d4579"/>
<rect x="122.1" y="326.7" width="7.6" height="7.6" stroke="#2d4579"/>
<rect x="109.1" y="331.2" width="7.6" height="7.6" stroke="#2d4579"/>
<rect x="115.4" y="330.6" width="7.6" height="7.6" stroke="#2d4579"/>
<rect x="120.8" y="330.1" width="7.6" height="7.6" stroke="#2d4579"/>
<rect x="111.5" y="335.6" width="7.6" height="7.6" stroke="#2d4579"/>
<rect x="117.3" y="335.0" width="7.6" height="7.6" stroke="#2d4579"/>
<rect x="114.6" y="282.8" width="7.6" height="7.6" stroke="#2d4579"/>
<rect x="114.7" y="252.6" width="7.6" height="7.6" stroke="#2d4579"/>
<rect x="108.7" y="294.0" width="7.6" height="7.6" stroke="#2d4579"/>
<rect x="120.5" y="296.6" width="7.6" height="7.6" stroke="#2d4579"/>
<rect x="110.7" y="299.9" width="7.6" height="7.6" stroke="#2d4579"/>
<rect x="119.2" y="303.2" width="7.6" height="7.6" stroke="#2d4579"/>
<rect x="114.6" y="344.0" width="7.6" height="7.6" stroke="#2d4579"/>
<rect x="118.6" y="340.7" width="7.6" height="7.6" stroke="#2d4579"/>
<line x1="118.50" y1="316.50" x2="118.50" y2="332.00" stroke="#222" stroke-width="1.4"/>
<line x1="112.00" y1="316.50" x2="125.00" y2="316.50" stroke="#222" stroke-width="1.4"/>
<line x1="112.00" y1="332.00" x2="125.00" y2="332.00" stroke="#222" stroke-width="1.4"/>
<line x1="105.00" y1="326.00" x2="132.00" y2="326.00" stroke="#222" stroke-width="1.7"/>
<path d="M151.0 252.1L155.4 256.5L151.0 260.9L146.6 256.5Z" stroke="#961b3c" stroke-width="1.6"/>
<path d="M155.0 252.1L159.4 256.5L155.0 260.9L150.6 256.5Z" stroke="#961b3c" stroke-width="1.6"/>
<path d="M159.0 252.1L163.4 256.5L159.0 260.9L154.6 256.5Z" stroke="#961b3c" stroke-width="1.6"/>
<path d="M163.0 252.1L167.4 256.5L163.0 260.9L158.6 256.5Z" stroke="#961b3c" stroke-width="1.6"/>
<path d="M157.6 264.4L162.0 268.8L157.6 273.2L153.2 268.8Z" stroke="#961b3c" stroke-width="1.6"/>
<path d="M151.4 281.9L155.8 286.3L151.4 290.7L147.0 286.3Z" stroke="#961b3c" stroke-width="1.6"/>
<path d="M163.3 293.2L167.7 297.6L163.3 302.0L158.9 297.6Z" stroke="#961b3c" stroke-width="1.6"/>
<path d="M157.6 305.1L162.0 309.5L157.6 313.9L153.2 309.5Z" stroke="#961b3c" stroke-width="1.6"/>
<path d="M151.4 310.7L155.8 315.1L151.4 319.5L147.0 315.1Z" stroke="#961b3c" stroke-width="1.6"/>
<path d="M153.5 318.9L157.9 323.3L153.5 327.7L149.1 323.3Z" stroke="#961b3c" stroke-width="1.6"/>
<path d="M163.7 317.5L168.1 321.9L163.7 326.3L159.3 321.9Z" stroke="#961b3c" stroke-width="1.6"/>
<path d="M163.3 326.1L167.7 330.5L163.3 334.9L158.9 330.5Z" stroke="#961b3c" stroke-width="1.6"/>
<path d="M151.4 331.3L155.8 335.7L151.4 340.1L147.0 335.7Z" stroke="#961b3c" stroke-width="1.6"/>
<path d="M154.5 337.0L158.9 341.4L154.5 345.8L150.1 341.4Z" stroke="#961b3c" stroke-width="1.6"/>
<path d="M161.3 336.0L165.7 340.4L161.3 344.8L156.9 340.4Z" stroke="#961b3c" stroke-width="1.6"/>
<line x1="157.60" y1="256.50" x2="157.60" y2="327.40" stroke="#222" stroke-width="1.4"/>
<line x1="150.30" y1="256.50" x2="164.90" y2="256.50" stroke="#222" stroke-width="1.4"/>
<line x1="150.30" y1="327.40" x2="164.90" y2="327.40" stroke="#222" stroke-width="1.4"/>
<line x1="144.60" y1="309.50" x2="170.60" y2="309.50" stroke="#222" stroke-width="1.7"/>
<path d="M185.6 316.0L185.3 318.0L185.0 332.0L186.8 338.0L190.8 341.0L190.8 342.0L202.4 342.0L202.4 341.0L206.4 338.0L208.2 332.0L207.9 318.0L207.6 316.0Z" fill="#6482b8" stroke="#6482b8" stroke-width="1.5" stroke-linejoin="round" opacity="0.6"/>
<rect x="186.2" y="307.6" width="7.6" height="7.6" stroke="#2d4579"/>
<rect x="193.5" y="306.9" width="7.6" height="7.6" stroke="#2d4579"/>
<rect x="200.0" y="307.6" width="7.6" height="7.6" stroke="#2d4579"/>
<rect x="185.6" y="311.2" width="7.6" height="7.6" stroke="#2d4579"/>
<rect x="191.1" y="310.9" width="7.6" height="7.6" stroke="#2d4579"/>
<rect x="195.5" y="311.9" width="7.6" height="7.6" stroke="#2d4579"/>
<rect x="200.8" y="311.5" width="7.6" height="7.6" stroke="#2d4579"/>
<rect x="184.1" y="314.9" width="7.6" height="7.6" stroke="#2d4579"/>
<rect x="190.7" y="315.1" width="7.6" height="7.6" stroke="#2d4579"/>
<rect x="195.2" y="315.8" width="7.6" height="7.6" stroke="#2d4579"/>
<rect x="200.9" y="315.2" width="7.6" height="7.6" stroke="#2d4579"/>
<rect x="184.9" y="319.0" width="7.6" height="7.6" stroke="#2d4579"/>
<rect x="190.6" y="319.0" width="7.6" height="7.6" stroke="#2d4579"/>
<rect x="195.6" y="319.3" width="7.6" height="7.6" stroke="#2d4579"/>
<rect x="201.6" y="319.8" width="7.6" height="7.6" stroke="#2d4579"/>
<rect x="184.5" y="322.5" width="7.6" height="7.6" stroke="#2d4579"/>
<rect x="189.5" y="323.3" width="7.6" height="7.6" stroke="#2d4579"/>
<rect x="195.0" y="323.5" width="7.6" height="7.6" stroke="#2d4579"/>
<rect x="200.9" y="322.7" width="7.6" height="7.6" stroke="#2d4579"/>
<rect x="184.8" y="326.7" width="7.6" height="7.6" stroke="#2d4579"/>
<rect x="190.5" y="326.7" width="7.6" height="7.6" stroke="#2d4579"/>
<rect x="196.0" y="327.7" width="7.6" height="7.6" stroke="#2d4579"/>
<rect x="201.8" y="326.5" width="7.6" height="7.6" stroke="#2d4579"/>
<rect x="185.4" y="331.2" width="7.6" height="7.6" stroke="#2d4579"/>
<rect x="189.9" y="331.0" width="7.6" height="7.6" stroke="#2d4579"/>
<rect x="194.5" y="331.6" width="7.6" height="7.6" stroke="#2d4579"/>
<rect x="199.1" y="331.2" width="7.6" height="7.6" stroke="#2d4579"/>
<rect x="189.9" y="334.9" width="7.6" height="7.6" stroke="#2d4579"/>
<rect x="194.9" y="334.7" width="7.6" height="7.6" stroke="#2d4579"/>
<rect x="192.6" y="253.1" width="7.6" height="7.6" stroke="#2d4579"/>
<rect x="192.6" y="282.8" width="7.6" height="7.6" stroke="#2d4579"/>
<rect x="186.7" y="294.0" width="7.6" height="7.6" stroke="#2d4579"/>
<rect x="198.5" y="296.6" width="7.6" height="7.6" stroke="#2d4579"/>
<rect x="188.7" y="299.9" width="7.6" height="7.6" stroke="#2d4579"/>
<rect x="197.2" y="302.5" width="7.6" height="7.6" stroke="#2d4579"/>
<rect x="192.6" y="343.3" width="7.6" height="7.6" stroke="#2d4579"/>
<line x1="196.60" y1="316.00" x2="196.60" y2="332.60" stroke="#222" stroke-width="1.4"/>
<line x1="190.10" y1="316.00" x2="203.10" y2="316.00" stroke="#222" stroke-width="1.4"/>
<line x1="190.10" y1="332.60" x2="203.10" y2="332.60" stroke="#222" stroke-width="1.4"/>
<line x1="183.60" y1="326.00" x2="209.60" y2="326.00" stroke="#222" stroke-width="1.7"/>
<path d="M235.7 252.5L240.1 256.9L235.7 261.3L231.3 256.9Z" stroke="#961b3c" stroke-width="1.6"/>
<path d="M235.7 264.4L240.1 268.8L235.7 273.2L231.3 268.8Z" stroke="#961b3c" stroke-width="1.6"/>
<path d="M229.5 282.5L233.9 286.9L229.5 291.3L225.1 286.9Z" stroke="#961b3c" stroke-width="1.6"/>
<path d="M241.9 293.2L246.3 297.6L241.9 302.0L237.5 297.6Z" stroke="#961b3c" stroke-width="1.6"/>
<path d="M235.7 305.6L240.1 310.0L235.7 314.4L231.3 310.0Z" stroke="#961b3c" stroke-width="1.6"/>
<path d="M242.9 311.3L247.3 315.7L242.9 320.1L238.5 315.7Z" stroke="#961b3c" stroke-width="1.6"/>
<path d="M224.4 318.9L228.8 323.3L224.4 327.7L220.0 323.3Z" stroke="#961b3c" stroke-width="1.6"/>
<path d="M235.7 320.0L240.1 324.4L235.7 328.8L231.3 324.4Z" stroke="#961b3c" stroke-width="1.6"/>
<path d="M228.1 326.1L232.5 330.5L228.1 334.9L223.7 330.5Z" stroke="#961b3c" stroke-width="1.6"/>
<path d="M242.9 331.3L247.3 335.7L242.9 340.1L238.5 335.7Z" stroke="#961b3c" stroke-width="1.6"/>
<path d="M235.7 336.4L240.1 340.8L235.7 345.2L231.3 340.8Z" stroke="#961b3c" stroke-width="1.6"/>
<line x1="235.70" y1="286.90" x2="235.70" y2="330.50" stroke="#222" stroke-width="1.4"/>
<line x1="228.70" y1="286.90" x2="242.70" y2="286.90" stroke="#222" stroke-width="1.4"/>
<line x1="228.70" y1="330.50" x2="242.70" y2="330.50" stroke="#222" stroke-width="1.4"/>
<line x1="222.90" y1="315.70" x2="248.50" y2="315.70" stroke="#222" stroke-width="1.7"/>
<text x="7.20" y="220.40" font-size="13" text-anchor="start" font-weight="bold" fill="#000" stroke="#000" stroke-width="0.35">C</text>
<line x1="59.30" y1="228.40" x2="59.30" y2="361.35" stroke="#222" stroke-width="1.3"/>
<line x1="58.70" y1="360.75" x2="253.80" y2="360.75" stroke="#222" stroke-width="1.3"/>
<line x1="56.10" y1="360.75" x2="59.30" y2="360.75" stroke="#222" stroke-width="1.2"/>
<text x="52.60" y="364.35" font-size="8.9" text-anchor="end" font-weight="normal" fill="#333" >0</text>
<line x1="56.10" y1="317.47" x2="59.30" y2="317.47" stroke="#222" stroke-width="1.2"/>
<text x="52.60" y="321.07" font-size="8.9" text-anchor="end" font-weight="normal" fill="#333" >50</text>
<line x1="56.10" y1="274.18" x2="59.30" y2="274.18" stroke="#222" stroke-width="1.2"/>
<text x="52.60" y="277.78" font-size="8.9" text-anchor="end" font-weight="normal" fill="#333" >100</text>
<line x1="56.10" y1="230.90" x2="59.30" y2="230.90" stroke="#222" stroke-width="1.2"/>
<text x="52.60" y="234.50" font-size="8.9" text-anchor="end" font-weight="normal" fill="#333" >150</text>
<line x1="78.70" y1="360.75" x2="78.70" y2="363.75" stroke="#222" stroke-width="1.2"/>
<text x="78.70" y="374.60" font-size="8.9" text-anchor="middle" font-weight="normal" fill="#333" >C</text>
<line x1="117.60" y1="360.75" x2="117.60" y2="363.75" stroke="#222" stroke-width="1.2"/>
<text x="117.60" y="374.60" font-size="8.9" text-anchor="middle" font-weight="normal" fill="#333" >NB</text>
<line x1="157.00" y1="360.75" x2="157.00" y2="363.75" stroke="#222" stroke-width="1.2"/>
<text x="157.00" y="374.60" font-size="8.9" text-anchor="middle" font-weight="normal" fill="#333" >B</text>
<line x1="196.30" y1="360.75" x2="196.30" y2="363.75" stroke="#222" stroke-width="1.2"/>
<text x="196.30" y="374.60" font-size="8.9" text-anchor="middle" font-weight="normal" fill="#333" >NB</text>
<line x1="235.30" y1="360.75" x2="235.30" y2="363.75" stroke="#222" stroke-width="1.2"/>
<text x="235.30" y="374.60" font-size="8.9" text-anchor="middle" font-weight="normal" fill="#333" >B</text>
<line x1="177.20" y1="230.90" x2="177.20" y2="360.75" stroke="#222" stroke-width="1.3"/>
<line x1="75.00" y1="380.10" x2="159.70" y2="380.10" stroke="#222" stroke-width="1.3"/>
<text x="117.60" y="393.30" font-size="8.35" text-anchor="middle" font-weight="normal" fill="#333" >All Samples</text>
<line x1="187.50" y1="380.10" x2="239.20" y2="380.10" stroke="#222" stroke-width="1.3"/>
<text x="213.40" y="393.30" font-size="8.35" text-anchor="middle" font-weight="normal" fill="#333" >Partial Deficiency</text>
<text transform="translate(32.30,295.10) rotate(-90)" font-size="9.4" text-anchor="middle" fill="#333" stroke="#333" stroke-width="0.35" textLength="61" lengthAdjust="spacingAndGlyphs">Time to peak (min)</text>
<line x1="69.50" y1="236.60" x2="165.80" y2="236.60" stroke="#222" stroke-width="1.3"/>
<circle cx="117.5" cy="230.3" r="1.15" fill="#222"/>
<line x1="123.00" y1="247.20" x2="165.80" y2="247.20" stroke="#222" stroke-width="1.3"/>
<circle cx="144.3" cy="242.5" r="1.15" fill="#222"/>
<path d="M326.7 298.0L326.6 300.0L326.6 325.0L327.6 327.0L348.2 327.0L349.2 325.0L349.2 300.0L349.1 298.0Z" fill="#82bf64" stroke="#82bf64" stroke-width="1.5" stroke-linejoin="round" opacity="0.9"/>
<circle cx="330.1" cy="285.0" r="3.7" stroke="#66a64a"/>
<circle cx="338.2" cy="284.6" r="3.7" stroke="#66a64a"/>
<circle cx="345.9" cy="285.6" r="3.7" stroke="#66a64a"/>
<circle cx="329.4" cy="288.8" r="3.7" stroke="#66a64a"/>
<circle cx="338.7" cy="290.1" r="3.7" stroke="#66a64a"/>
<circle cx="345.2" cy="288.8" r="3.7" stroke="#66a64a"/>
<circle cx="329.4" cy="293.9" r="3.7" stroke="#66a64a"/>
<circle cx="337.5" cy="293.4" r="3.7" stroke="#66a64a"/>
<circle cx="346.3" cy="293.5" r="3.7" stroke="#66a64a"/>
<circle cx="330.2" cy="298.1" r="3.7" stroke="#66a64a"/>
<circle cx="335.0" cy="297.8" r="3.7" stroke="#66a64a"/>
<circle cx="339.9" cy="298.3" r="3.7" stroke="#66a64a"/>
<circle cx="345.7" cy="297.8" r="3.7" stroke="#66a64a"/>
<circle cx="329.4" cy="302.4" r="3.7" stroke="#66a64a"/>
<circle cx="346.2" cy="301.6" r="3.7" stroke="#66a64a"/>
<circle cx="335.7" cy="302.3" r="3.7" stroke="#66a64a"/>
<circle cx="329.2" cy="306.0" r="3.7" stroke="#66a64a"/>
<circle cx="346.4" cy="306.3" r="3.7" stroke="#66a64a"/>
<circle cx="330.2" cy="310.8" r="3.7" stroke="#66a64a"/>
<circle cx="346.0" cy="310.2" r="3.7" stroke="#66a64a"/>
<circle cx="335.6" cy="310.4" r="3.7" stroke="#66a64a"/>
<circle cx="328.9" cy="313.9" r="3.7" stroke="#66a64a"/>
<circle cx="346.5" cy="314.6" r="3.7" stroke="#66a64a"/>
<circle cx="328.8" cy="318.9" r="3.7" stroke="#66a64a"/>
<circle cx="346.3" cy="318.4" r="3.7" stroke="#66a64a"/>
<circle cx="335.6" cy="318.7" r="3.7" stroke="#66a64a"/>
<circle cx="329.4" cy="322.3" r="3.7" stroke="#66a64a"/>
<circle cx="346.5" cy="322.6" r="3.7" stroke="#66a64a"/>
<circle cx="330.8" cy="327.2" r="3.7" stroke="#66a64a"/>
<circle cx="338.6" cy="327.7" r="3.7" stroke="#66a64a"/>
<circle cx="343.9" cy="327.0" r="3.7" stroke="#66a64a"/>
<circle cx="332.5" cy="331.2" r="3.7" stroke="#66a64a"/>
<circle cx="342.2" cy="332.0" r="3.7" stroke="#66a64a"/>
<circle cx="335.1" cy="336.0" r="3.7" stroke="#66a64a"/>
<circle cx="340.5" cy="336.3" r="3.7" stroke="#66a64a"/>
<circle cx="338.6" cy="340.2" r="3.7" stroke="#66a64a"/>
<circle cx="344.8" cy="277.3" r="3.7" stroke="#66a64a"/>
<circle cx="338.0" cy="348.1" r="3.7" stroke="#66a64a"/>
<circle cx="331.0" cy="329.0" r="3.7" stroke="#66a64a"/>
<circle cx="345.0" cy="328.0" r="3.7" stroke="#66a64a"/>
<circle cx="334.0" cy="336.0" r="3.7" stroke="#66a64a"/>
<circle cx="341.0" cy="337.0" r="3.7" stroke="#66a64a"/>
<line x1="337.90" y1="303.20" x2="337.90" y2="321.00" stroke="#222" stroke-width="1.4"/>
<line x1="331.10" y1="303.20" x2="344.70" y2="303.20" stroke="#222" stroke-width="1.4"/>
<line x1="331.10" y1="321.00" x2="344.70" y2="321.00" stroke="#222" stroke-width="1.4"/>
<line x1="324.90" y1="307.80" x2="350.90" y2="307.80" stroke="#222" stroke-width="1.7"/>
<path d="M365.4 298.0L364.9 305.0L365.4 315.0L367.4 323.0L386.0 323.0L388.0 315.0L388.5 305.0L388.0 298.0Z" fill="#6482b8" stroke="#6482b8" stroke-width="1.5" stroke-linejoin="round" opacity="0.5"/>
<rect x="365.2" y="296.5" width="7.6" height="7.6" stroke="#2d4579"/>
<rect x="370.2" y="295.8" width="7.6" height="7.6" stroke="#2d4579"/>
<rect x="375.4" y="297.2" width="7.6" height="7.6" stroke="#2d4579"/>
<rect x="381.0" y="295.9" width="7.6" height="7.6" stroke="#2d4579"/>
<rect x="364.1" y="300.5" width="7.6" height="7.6" stroke="#2d4579"/>
<rect x="370.2" y="300.5" width="7.6" height="7.6" stroke="#2d4579"/>
<rect x="376.1" y="300.4" width="7.6" height="7.6" stroke="#2d4579"/>
<rect x="381.6" y="301.1" width="7.6" height="7.6" stroke="#2d4579"/>
<rect x="363.9" y="305.7" width="7.6" height="7.6" stroke="#2d4579"/>
<rect x="369.8" y="306.2" width="7.6" height="7.6" stroke="#2d4579"/>
<rect x="376.2" y="305.5" width="7.6" height="7.6" stroke="#2d4579"/>
<rect x="381.4" y="305.5" width="7.6" height="7.6" stroke="#2d4579"/>
<rect x="365.2" y="310.1" width="7.6" height="7.6" stroke="#2d4579"/>
<rect x="373.3" y="310.5" width="7.6" height="7.6" stroke="#2d4579"/>
<rect x="380.7" y="310.9" width="7.6" height="7.6" stroke="#2d4579"/>
<rect x="365.6" y="314.8" width="7.6" height="7.6" stroke="#2d4579"/>
<rect x="372.9" y="315.0" width="7.6" height="7.6" stroke="#2d4579"/>
<rect x="379.8" y="315.3" width="7.6" height="7.6" stroke="#2d4579"/>
<rect x="366.6" y="320.0" width="7.6" height="7.6" stroke="#2d4579"/>
<rect x="373.5" y="319.3" width="7.6" height="7.6" stroke="#2d4579"/>
<rect x="379.8" y="319.3" width="7.6" height="7.6" stroke="#2d4579"/>
<rect x="366.6" y="324.5" width="7.6" height="7.6" stroke="#2d4579"/>
<rect x="378.6" y="324.0" width="7.6" height="7.6" stroke="#2d4579"/>
<rect x="368.0" y="328.5" width="7.6" height="7.6" stroke="#2d4579"/>
<rect x="378.7" y="328.7" width="7.6" height="7.6" stroke="#2d4579"/>
<rect x="369.3" y="333.9" width="7.6" height="7.6" stroke="#2d4579"/>
<rect x="377.2" y="333.9" width="7.6" height="7.6" stroke="#2d4579"/>
<rect x="372.2" y="337.5" width="7.6" height="7.6" stroke="#2d4579"/>
<rect x="372.6" y="274.8" width="7.6" height="7.6" stroke="#2d4579"/>
<rect x="361.7" y="284.9" width="7.6" height="7.6" stroke="#2d4579"/>
<rect x="384.3" y="291.2" width="7.6" height="7.6" stroke="#2d4579"/>
<rect x="375.7" y="341.2" width="7.6" height="7.6" stroke="#2d4579"/>
<rect x="372.9" y="356.8" width="7.6" height="7.6" stroke="#2d4579"/>
<line x1="376.70" y1="305.30" x2="376.70" y2="323.90" stroke="#222" stroke-width="1.4"/>
<line x1="370.20" y1="305.30" x2="383.20" y2="305.30" stroke="#222" stroke-width="1.4"/>
<line x1="370.20" y1="323.90" x2="383.20" y2="323.90" stroke="#222" stroke-width="1.4"/>
<line x1="363.70" y1="314.50" x2="389.70" y2="314.50" stroke="#222" stroke-width="1.7"/>
<path d="M416.1 280.6L420.5 285.0L416.1 289.4L411.7 285.0Z" stroke="#961b3c" stroke-width="1.6"/>
<path d="M416.1 298.0L420.5 302.4L416.1 306.8L411.7 302.4Z" stroke="#961b3c" stroke-width="1.6"/>
<path d="M408.7 319.2L413.1 323.6L408.7 328.0L404.3 323.6Z" stroke="#961b3c" stroke-width="1.6"/>
<path d="M409.5 319.8L413.9 324.2L409.5 328.6L405.1 324.2Z" stroke="#961b3c" stroke-width="1.6"/>
<path d="M423.1 319.2L427.5 323.6L423.1 328.0L418.7 323.6Z" stroke="#961b3c" stroke-width="1.6"/>
<path d="M422.3 319.8L426.7 324.2L422.3 328.6L417.9 324.2Z" stroke="#961b3c" stroke-width="1.6"/>
<path d="M415.9 324.6L420.3 329.0L415.9 333.4L411.5 329.0Z" stroke="#961b3c" stroke-width="1.6"/>
<path d="M416.5 325.2L420.9 329.6L416.5 334.0L412.1 329.6Z" stroke="#961b3c" stroke-width="1.6"/>
<path d="M410.5 332.7L414.9 337.1L410.5 341.5L406.1 337.1Z" stroke="#961b3c" stroke-width="1.6"/>
<path d="M421.3 332.7L425.7 337.1L421.3 341.5L416.9 337.1Z" stroke="#961b3c" stroke-width="1.6"/>
<path d="M413.6 335.6L418.0 340.0L413.6 344.4L409.2 340.0Z" stroke="#961b3c" stroke-width="1.6"/>
<path d="M419.1 340.4L423.5 344.8L419.1 349.2L414.7 344.8Z" stroke="#961b3c" stroke-width="1.6"/>
<path d="M411.0 355.8L415.4 360.2L411.0 364.6L406.6 360.2Z" stroke="#961b3c" stroke-width="1.6"/>
<path d="M413.0 355.8L417.4 360.2L413.0 364.6L408.6 360.2Z" stroke="#961b3c" stroke-width="1.6"/>
<path d="M419.0 355.8L423.4 360.2L419.0 364.6L414.6 360.2Z" stroke="#961b3c" stroke-width="1.6"/>
<path d="M421.0 355.8L425.4 360.2L421.0 364.6L416.6 360.2Z" stroke="#961b3c" stroke-width="1.6"/>
<line x1="416.10" y1="329.00" x2="416.10" y2="353.00" stroke="#222" stroke-width="1.4"/>
<line x1="409.50" y1="329.00" x2="422.70" y2="329.00" stroke="#222" stroke-width="1.4"/>
<line x1="409.50" y1="353.00" x2="422.70" y2="353.00" stroke="#222" stroke-width="1.4"/>
<line x1="403.00" y1="333.10" x2="429.20" y2="333.10" stroke="#222" stroke-width="1.7"/>
<path d="M443.1 298.0L443.1 310.0L444.6 320.0L445.2 326.0L464.6 326.0L465.2 320.0L466.7 310.0L466.7 298.0Z" fill="#6482b8" stroke="#6482b8" stroke-width="1.5" stroke-linejoin="round" opacity="0.5"/>
<rect x="442.6" y="296.9" width="7.6" height="7.6" stroke="#2d4579"/>
<rect x="447.5" y="296.7" width="7.6" height="7.6" stroke="#2d4579"/>
<rect x="454.3" y="296.2" width="7.6" height="7.6" stroke="#2d4579"/>
<rect x="460.2" y="296.9" width="7.6" height="7.6" stroke="#2d4579"/>
<rect x="441.5" y="301.1" width="7.6" height="7.6" stroke="#2d4579"/>
<rect x="447.4" y="300.9" width="7.6" height="7.6" stroke="#2d4579"/>
<rect x="454.7" y="301.2" width="7.6" height="7.6" stroke="#2d4579"/>
<rect x="460.8" y="300.3" width="7.6" height="7.6" stroke="#2d4579"/>
<rect x="442.0" y="305.9" width="7.6" height="7.6" stroke="#2d4579"/>
<rect x="448.9" y="305.2" width="7.6" height="7.6" stroke="#2d4579"/>
<rect x="453.7" y="305.4" width="7.6" height="7.6" stroke="#2d4579"/>
<rect x="460.2" y="305.1" width="7.6" height="7.6" stroke="#2d4579"/>
<rect x="443.5" y="310.6" width="7.6" height="7.6" stroke="#2d4579"/>
<rect x="451.8" y="309.5" width="7.6" height="7.6" stroke="#2d4579"/>
<rect x="459.8" y="309.4" width="7.6" height="7.6" stroke="#2d4579"/>
<rect x="443.5" y="314.0" width="7.6" height="7.6" stroke="#2d4579"/>
<rect x="451.7" y="314.5" width="7.6" height="7.6" stroke="#2d4579"/>
<rect x="458.4" y="315.0" width="7.6" height="7.6" stroke="#2d4579"/>
<rect x="443.9" y="319.5" width="7.6" height="7.6" stroke="#2d4579"/>
<rect x="451.6" y="318.9" width="7.6" height="7.6" stroke="#2d4579"/>
<rect x="458.2" y="318.3" width="7.6" height="7.6" stroke="#2d4579"/>
<rect x="445.2" y="323.6" width="7.6" height="7.6" stroke="#2d4579"/>
<rect x="458.1" y="322.9" width="7.6" height="7.6" stroke="#2d4579"/>
<rect x="447.9" y="327.6" width="7.6" height="7.6" stroke="#2d4579"/>
<rect x="454.4" y="327.8" width="7.6" height="7.6" stroke="#2d4579"/>
<rect x="451.4" y="274.8" width="7.6" height="7.6" stroke="#2d4579"/>
<rect x="439.7" y="284.9" width="7.6" height="7.6" stroke="#2d4579"/>
<rect x="463.1" y="291.2" width="7.6" height="7.6" stroke="#2d4579"/>
<rect x="443.6" y="334.2" width="7.6" height="7.6" stroke="#2d4579"/>
<rect x="451.4" y="339.6" width="7.6" height="7.6" stroke="#2d4579"/>
<rect x="459.2" y="333.4" width="7.6" height="7.6" stroke="#2d4579"/>
<rect x="451.4" y="356.8" width="7.6" height="7.6" stroke="#2d4579"/>
<line x1="454.90" y1="300.50" x2="454.90" y2="318.00" stroke="#222" stroke-width="1.4"/>
<line x1="448.40" y1="300.50" x2="461.40" y2="300.50" stroke="#222" stroke-width="1.4"/>
<line x1="448.40" y1="318.00" x2="461.40" y2="318.00" stroke="#222" stroke-width="1.4"/>
<line x1="441.90" y1="311.40" x2="467.90" y2="311.40" stroke="#222" stroke-width="1.7"/>
<path d="M494.6 281.1L499.0 285.5L494.6 289.9L490.2 285.5Z" stroke="#961b3c" stroke-width="1.6"/>
<path d="M487.2 318.8L491.6 323.2L487.2 327.6L482.8 323.2Z" stroke="#961b3c" stroke-width="1.6"/>
<path d="M502.2 318.8L506.6 323.2L502.2 327.6L497.8 323.2Z" stroke="#961b3c" stroke-width="1.6"/>
<path d="M494.6 324.6L499.0 329.0L494.6 333.4L490.2 329.0Z" stroke="#961b3c" stroke-width="1.6"/>
<path d="M487.2 329.1L491.6 333.5L487.2 337.9L482.8 333.5Z" stroke="#961b3c" stroke-width="1.6"/>
<path d="M502.2 329.1L506.6 333.5L502.2 337.9L497.8 333.5Z" stroke="#961b3c" stroke-width="1.6"/>
<path d="M494.6 334.9L499.0 339.3L494.6 343.7L490.2 339.3Z" stroke="#961b3c" stroke-width="1.6"/>
<path d="M494.6 355.6L499.0 360.0L494.6 364.4L490.2 360.0Z" stroke="#961b3c" stroke-width="1.6"/>
<path d="M494.6 319.6L499.0 324.0L494.6 328.4L490.2 324.0Z" stroke="#961b3c" stroke-width="1.6"/>
<line x1="494.60" y1="324.80" x2="494.60" y2="337.00" stroke="#222" stroke-width="1.4"/>
<line x1="487.60" y1="324.80" x2="501.60" y2="324.80" stroke="#222" stroke-width="1.4"/>
<line x1="487.60" y1="337.00" x2="501.60" y2="337.00" stroke="#222" stroke-width="1.4"/>
<line x1="481.60" y1="328.50" x2="507.60" y2="328.50" stroke="#222" stroke-width="1.7"/>
<text x="273.20" y="220.40" font-size="13" text-anchor="start" font-weight="bold" fill="#000" stroke="#000" stroke-width="0.35">D</text>
<line x1="318.30" y1="228.40" x2="318.30" y2="361.35" stroke="#222" stroke-width="1.3"/>
<line x1="317.70" y1="360.75" x2="512.80" y2="360.75" stroke="#222" stroke-width="1.3"/>
<line x1="315.10" y1="360.75" x2="318.30" y2="360.75" stroke="#222" stroke-width="1.2"/>
<text x="311.60" y="364.35" font-size="8.9" text-anchor="end" font-weight="normal" fill="#333" >0.0</text>
<line x1="315.10" y1="339.11" x2="318.30" y2="339.11" stroke="#222" stroke-width="1.2"/>
<text x="311.60" y="342.71" font-size="8.9" text-anchor="end" font-weight="normal" fill="#333" >0.2</text>
<line x1="315.10" y1="317.47" x2="318.30" y2="317.47" stroke="#222" stroke-width="1.2"/>
<text x="311.60" y="321.07" font-size="8.9" text-anchor="end" font-weight="normal" fill="#333" >0.4</text>
<line x1="315.10" y1="295.82" x2="318.30" y2="295.82" stroke="#222" stroke-width="1.2"/>
<text x="311.60" y="299.43" font-size="8.9" text-anchor="end" font-weight="normal" fill="#333" >0.6</text>
<line x1="315.10" y1="274.18" x2="318.30" y2="274.18" stroke="#222" stroke-width="1.2"/>
<text x="311.60" y="277.78" font-size="8.9" text-anchor="end" font-weight="normal" fill="#333" >0.8</text>
<line x1="315.10" y1="252.54" x2="318.30" y2="252.54" stroke="#222" stroke-width="1.2"/>
<text x="311.60" y="256.14" font-size="8.9" text-anchor="end" font-weight="normal" fill="#333" >1.0</text>
<line x1="315.10" y1="230.90" x2="318.30" y2="230.90" stroke="#222" stroke-width="1.2"/>
<text x="311.60" y="234.50" font-size="8.9" text-anchor="end" font-weight="normal" fill="#333" >1.2</text>
<line x1="337.70" y1="360.75" x2="337.70" y2="363.75" stroke="#222" stroke-width="1.2"/>
<text x="337.70" y="374.60" font-size="8.9" text-anchor="middle" font-weight="normal" fill="#333" >C</text>
<line x1="376.60" y1="360.75" x2="376.60" y2="363.75" stroke="#222" stroke-width="1.2"/>
<text x="376.60" y="374.60" font-size="8.9" text-anchor="middle" font-weight="normal" fill="#333" >NB</text>
<line x1="416.00" y1="360.75" x2="416.00" y2="363.75" stroke="#222" stroke-width="1.2"/>
<text x="416.00" y="374.60" font-size="8.9" text-anchor="middle" font-weight="normal" fill="#333" >B</text>
<line x1="455.30" y1="360.75" x2="455.30" y2="363.75" stroke="#222" stroke-width="1.2"/>
<text x="455.30" y="374.60" font-size="8.9" text-anchor="middle" font-weight="normal" fill="#333" >NB</text>
<line x1="494.30" y1="360.75" x2="494.30" y2="363.75" stroke="#222" stroke-width="1.2"/>
<text x="494.30" y="374.60" font-size="8.9" text-anchor="middle" font-weight="normal" fill="#333" >B</text>
<line x1="436.20" y1="230.90" x2="436.20" y2="360.75" stroke="#222" stroke-width="1.3"/>
<line x1="334.00" y1="380.10" x2="418.70" y2="380.10" stroke="#222" stroke-width="1.3"/>
<text x="376.60" y="393.30" font-size="8.35" text-anchor="middle" font-weight="normal" fill="#333" >All Samples</text>
<line x1="446.50" y1="380.10" x2="498.20" y2="380.10" stroke="#222" stroke-width="1.3"/>
<text x="472.40" y="393.30" font-size="8.35" text-anchor="middle" font-weight="normal" fill="#333" >Partial Deficiency</text>
<text transform="translate(293.30,293.75) rotate(-90)" font-size="9.4" text-anchor="middle" fill="#333" stroke="#333" stroke-width="0.35" textLength="67.5" lengthAdjust="spacingAndGlyphs">Peak turbidity change</text>
<line x1="328.75" y1="237.00" x2="424.90" y2="237.00" stroke="#222" stroke-width="1.3"/>
<circle cx="374.2" cy="230.5" r="1.15" fill="#222"/>
<circle cx="377.8" cy="230.5" r="1.15" fill="#222"/>
<line x1="382.00" y1="247.40" x2="424.90" y2="247.40" stroke="#222" stroke-width="1.3"/>
<circle cx="402.2" cy="241.6" r="1.15" fill="#222"/>
<circle cx="405.8" cy="241.6" r="1.15" fill="#222"/>
<line x1="454.20" y1="247.60" x2="497.20" y2="247.60" stroke="#222" stroke-width="1.3"/>
<circle cx="475.7" cy="241.6" r="1.15" fill="#222"/>
<path d="M69.9 494.0L69.9 495.0L67.4 505.0L67.4 515.0L68.4 530.0L69.2 538.0L89.2 538.0L90.0 530.0L91.0 515.0L91.0 505.0L88.5 495.0L88.5 494.0Z" fill="#9fcf85" stroke="#9fcf85" stroke-width="1.5" stroke-linejoin="round" opacity="0.75"/>
<circle cx="73.2" cy="488.5" r="3.7" stroke="#66a64a"/>
<circle cx="85.1" cy="488.2" r="3.7" stroke="#66a64a"/>
<circle cx="73.0" cy="493.4" r="3.7" stroke="#66a64a"/>
<circle cx="79.0" cy="493.3" r="3.7" stroke="#66a64a"/>
<circle cx="86.1" cy="492.8" r="3.7" stroke="#66a64a"/>
<circle cx="73.3" cy="497.9" r="3.7" stroke="#66a64a"/>
<circle cx="79.0" cy="497.5" r="3.7" stroke="#66a64a"/>
<circle cx="85.0" cy="497.7" r="3.7" stroke="#66a64a"/>
<circle cx="71.6" cy="502.7" r="3.7" stroke="#66a64a"/>
<circle cx="76.1" cy="503.2" r="3.7" stroke="#66a64a"/>
<circle cx="82.5" cy="503.1" r="3.7" stroke="#66a64a"/>
<circle cx="86.8" cy="503.3" r="3.7" stroke="#66a64a"/>
<circle cx="69.5" cy="507.8" r="3.7" stroke="#66a64a"/>
<circle cx="75.8" cy="508.3" r="3.7" stroke="#66a64a"/>
<circle cx="81.5" cy="507.4" r="3.7" stroke="#66a64a"/>
<circle cx="88.1" cy="507.4" r="3.7" stroke="#66a64a"/>
<circle cx="69.9" cy="513.0" r="3.7" stroke="#66a64a"/>
<circle cx="75.7" cy="512.3" r="3.7" stroke="#66a64a"/>
<circle cx="82.8" cy="513.0" r="3.7" stroke="#66a64a"/>
<circle cx="88.1" cy="513.0" r="3.7" stroke="#66a64a"/>
<circle cx="71.1" cy="517.4" r="3.7" stroke="#66a64a"/>
<circle cx="75.8" cy="517.7" r="3.7" stroke="#66a64a"/>
<circle cx="81.9" cy="518.1" r="3.7" stroke="#66a64a"/>
<circle cx="88.6" cy="517.5" r="3.7" stroke="#66a64a"/>
<circle cx="71.0" cy="521.8" r="3.7" stroke="#66a64a"/>
<circle cx="77.2" cy="521.8" r="3.7" stroke="#66a64a"/>
<circle cx="82.6" cy="521.8" r="3.7" stroke="#66a64a"/>
<circle cx="87.0" cy="522.4" r="3.7" stroke="#66a64a"/>
<circle cx="70.5" cy="527.3" r="3.7" stroke="#66a64a"/>
<circle cx="76.0" cy="526.9" r="3.7" stroke="#66a64a"/>
<circle cx="81.9" cy="526.7" r="3.7" stroke="#66a64a"/>
<circle cx="87.2" cy="526.9" r="3.7" stroke="#66a64a"/>
<circle cx="72.1" cy="531.7" r="3.7" stroke="#66a64a"/>
<circle cx="76.6" cy="532.8" r="3.7" stroke="#66a64a"/>
<circle cx="81.6" cy="531.8" r="3.7" stroke="#66a64a"/>
<circle cx="86.7" cy="532.7" r="3.7" stroke="#66a64a"/>
<circle cx="71.8" cy="536.9" r="3.7" stroke="#66a64a"/>
<circle cx="79.7" cy="537.3" r="3.7" stroke="#66a64a"/>
<circle cx="86.9" cy="537.0" r="3.7" stroke="#66a64a"/>
<circle cx="73.4" cy="542.0" r="3.7" stroke="#66a64a"/>
<circle cx="86.5" cy="541.6" r="3.7" stroke="#66a64a"/>
<circle cx="73.9" cy="546.6" r="3.7" stroke="#66a64a"/>
<circle cx="84.5" cy="546.7" r="3.7" stroke="#66a64a"/>
<circle cx="76.0" cy="552.2" r="3.7" stroke="#66a64a"/>
<circle cx="82.6" cy="552.4" r="3.7" stroke="#66a64a"/>
<circle cx="72.8" cy="461.8" r="3.7" stroke="#66a64a"/>
<circle cx="84.6" cy="458.1" r="3.7" stroke="#66a64a"/>
<circle cx="86.4" cy="469.0" r="3.7" stroke="#66a64a"/>
<circle cx="71.9" cy="474.4" r="3.7" stroke="#66a64a"/>
<circle cx="79.2" cy="476.2" r="3.7" stroke="#66a64a"/>
<line x1="79.20" y1="503.90" x2="79.20" y2="533.90" stroke="#222" stroke-width="1.4"/>
<line x1="72.20" y1="503.90" x2="86.20" y2="503.90" stroke="#222" stroke-width="1.4"/>
<line x1="72.20" y1="533.90" x2="86.20" y2="533.90" stroke="#222" stroke-width="1.4"/>
<line x1="66.20" y1="514.30" x2="92.20" y2="514.30" stroke="#222" stroke-width="1.7"/>
<path d="M106.8 508.0L105.3 520.0L106.3 530.0L109.3 540.0L109.3 541.0L125.9 541.0L125.9 540.0L128.9 530.0L129.9 520.0L128.4 508.0Z" fill="#6482b8" stroke="#6482b8" stroke-width="1.5" stroke-linejoin="round" opacity="0.55"/>
<rect x="105.9" y="505.8" width="7.6" height="7.6" stroke="#2d4579"/>
<rect x="111.4" y="506.0" width="7.6" height="7.6" stroke="#2d4579"/>
<rect x="115.7" y="507.1" width="7.6" height="7.6" stroke="#2d4579"/>
<rect x="120.9" y="507.2" width="7.6" height="7.6" stroke="#2d4579"/>
<rect x="105.7" y="511.8" width="7.6" height="7.6" stroke="#2d4579"/>
<rect x="111.7" y="511.8" width="7.6" height="7.6" stroke="#2d4579"/>
<rect x="116.7" y="512.0" width="7.6" height="7.6" stroke="#2d4579"/>
<rect x="121.9" y="511.7" width="7.6" height="7.6" stroke="#2d4579"/>
<rect x="105.4" y="517.9" width="7.6" height="7.6" stroke="#2d4579"/>
<rect x="111.0" y="517.9" width="7.6" height="7.6" stroke="#2d4579"/>
<rect x="116.7" y="517.1" width="7.6" height="7.6" stroke="#2d4579"/>
<rect x="123.1" y="517.5" width="7.6" height="7.6" stroke="#2d4579"/>
<rect x="105.7" y="522.7" width="7.6" height="7.6" stroke="#2d4579"/>
<rect x="110.2" y="522.3" width="7.6" height="7.6" stroke="#2d4579"/>
<rect x="117.4" y="522.5" width="7.6" height="7.6" stroke="#2d4579"/>
<rect x="122.7" y="523.0" width="7.6" height="7.6" stroke="#2d4579"/>
<rect x="107.6" y="528.8" width="7.6" height="7.6" stroke="#2d4579"/>
<rect x="114.3" y="528.3" width="7.6" height="7.6" stroke="#2d4579"/>
<rect x="121.1" y="528.2" width="7.6" height="7.6" stroke="#2d4579"/>
<rect x="107.8" y="533.2" width="7.6" height="7.6" stroke="#2d4579"/>
<rect x="113.1" y="533.9" width="7.6" height="7.6" stroke="#2d4579"/>
<rect x="118.5" y="534.4" width="7.6" height="7.6" stroke="#2d4579"/>
<rect x="114.2" y="459.7" width="7.6" height="7.6" stroke="#2d4579"/>
<rect x="119.9" y="467.3" width="7.6" height="7.6" stroke="#2d4579"/>
<rect x="108.5" y="473.9" width="7.6" height="7.6" stroke="#2d4579"/>
<rect x="102.8" y="483.4" width="7.6" height="7.6" stroke="#2d4579"/>
<rect x="125.6" y="487.2" width="7.6" height="7.6" stroke="#2d4579"/>
<rect x="109.5" y="495.7" width="7.6" height="7.6" stroke="#2d4579"/>
<rect x="119.9" y="494.8" width="7.6" height="7.6" stroke="#2d4579"/>
<rect x="112.3" y="499.5" width="7.6" height="7.6" stroke="#2d4579"/>
<rect x="118.9" y="501.4" width="7.6" height="7.6" stroke="#2d4579"/>
<rect x="120.8" y="540.2" width="7.6" height="7.6" stroke="#2d4579"/>
<rect x="106.6" y="544.0" width="7.6" height="7.6" stroke="#2d4579"/>
<rect x="114.2" y="547.8" width="7.6" height="7.6" stroke="#2d4579"/>
<rect x="119.9" y="550.6" width="7.6" height="7.6" stroke="#2d4579"/>
<rect x="107.6" y="561.0" width="7.6" height="7.6" stroke="#2d4579"/>
<line x1="117.60" y1="505.00" x2="117.60" y2="532.80" stroke="#222" stroke-width="1.4"/>
<line x1="111.10" y1="505.00" x2="124.10" y2="505.00" stroke="#222" stroke-width="1.4"/>
<line x1="111.10" y1="532.80" x2="124.10" y2="532.80" stroke="#222" stroke-width="1.4"/>
<line x1="104.60" y1="523.20" x2="130.60" y2="523.20" stroke="#222" stroke-width="1.7"/>
<path d="M157.8 481.5L162.2 485.9L157.8 490.3L153.4 485.9Z" stroke="#961b3c" stroke-width="1.6"/>
<path d="M157.8 496.0L162.2 500.4L157.8 504.8L153.4 500.4Z" stroke="#961b3c" stroke-width="1.6"/>
<path d="M145.8 525.5L150.2 529.9L145.8 534.3L141.4 529.9Z" stroke="#961b3c" stroke-width="1.6"/>
<path d="M169.3 523.2L173.7 527.6L169.3 532.0L164.9 527.6Z" stroke="#961b3c" stroke-width="1.6"/>
<path d="M149.0 535.6L153.4 540.0L149.0 544.4L144.6 540.0Z" stroke="#961b3c" stroke-width="1.6"/>
<path d="M153.0 535.6L157.4 540.0L153.0 544.4L148.6 540.0Z" stroke="#961b3c" stroke-width="1.6"/>
<path d="M157.5 535.6L161.9 540.0L157.5 544.4L153.1 540.0Z" stroke="#961b3c" stroke-width="1.6"/>
<path d="M162.0 535.6L166.4 540.0L162.0 544.4L157.6 540.0Z" stroke="#961b3c" stroke-width="1.6"/>
<path d="M166.0 535.6L170.4 540.0L166.0 544.4L161.6 540.0Z" stroke="#961b3c" stroke-width="1.6"/>
<path d="M153.0 538.6L157.4 543.0L153.0 547.4L148.6 543.0Z" stroke="#961b3c" stroke-width="1.6"/>
<path d="M158.0 538.6L162.4 543.0L158.0 547.4L153.6 543.0Z" stroke="#961b3c" stroke-width="1.6"/>
<path d="M163.0 538.6L167.4 543.0L163.0 547.4L158.6 543.0Z" stroke="#961b3c" stroke-width="1.6"/>
<path d="M155.5 540.6L159.9 545.0L155.5 549.4L151.1 545.0Z" stroke="#961b3c" stroke-width="1.6"/>
<path d="M160.5 540.6L164.9 545.0L160.5 549.4L156.1 545.0Z" stroke="#961b3c" stroke-width="1.6"/>
<path d="M158.5 540.6L162.9 545.0L158.5 549.4L154.1 545.0Z" stroke="#961b3c" stroke-width="1.6"/>
<path d="M150.4 560.0L154.8 564.4L150.4 568.8L146.0 564.4Z" stroke="#961b3c" stroke-width="1.6"/>
<path d="M154.5 560.0L158.9 564.4L154.5 568.8L150.1 564.4Z" stroke="#961b3c" stroke-width="1.6"/>
<path d="M158.6 560.0L163.0 564.4L158.6 568.8L154.2 564.4Z" stroke="#961b3c" stroke-width="1.6"/>
<path d="M162.7 560.0L167.1 564.4L162.7 568.8L158.3 564.4Z" stroke="#961b3c" stroke-width="1.6"/>
<path d="M166.8 560.0L171.2 564.4L166.8 568.8L162.4 564.4Z" stroke="#961b3c" stroke-width="1.6"/>
<line x1="157.80" y1="534.40" x2="157.80" y2="564.50" stroke="#222" stroke-width="1.4"/>
<line x1="151.60" y1="534.40" x2="164.00" y2="534.40" stroke="#222" stroke-width="1.4"/>
<line x1="151.60" y1="564.50" x2="164.00" y2="564.50" stroke="#222" stroke-width="1.4"/>
<line x1="144.80" y1="540.20" x2="170.80" y2="540.20" stroke="#222" stroke-width="1.7"/>
<path d="M185.7 508.0L184.7 520.0L185.7 530.0L188.7 540.0L188.7 541.0L204.3 541.0L204.3 540.0L207.3 530.0L208.3 520.0L207.3 508.0Z" fill="#6482b8" stroke="#6482b8" stroke-width="1.5" stroke-linejoin="round" opacity="0.55"/>
<rect x="184.7" y="506.5" width="7.6" height="7.6" stroke="#2d4579"/>
<rect x="190.5" y="507.0" width="7.6" height="7.6" stroke="#2d4579"/>
<rect x="196.1" y="506.5" width="7.6" height="7.6" stroke="#2d4579"/>
<rect x="200.4" y="506.7" width="7.6" height="7.6" stroke="#2d4579"/>
<rect x="184.0" y="511.4" width="7.6" height="7.6" stroke="#2d4579"/>
<rect x="189.3" y="512.4" width="7.6" height="7.6" stroke="#2d4579"/>
<rect x="194.8" y="512.4" width="7.6" height="7.6" stroke="#2d4579"/>
<rect x="200.9" y="511.7" width="7.6" height="7.6" stroke="#2d4579"/>
<rect x="183.8" y="517.2" width="7.6" height="7.6" stroke="#2d4579"/>
<rect x="189.9" y="517.6" width="7.6" height="7.6" stroke="#2d4579"/>
<rect x="195.0" y="516.8" width="7.6" height="7.6" stroke="#2d4579"/>
<rect x="201.2" y="517.1" width="7.6" height="7.6" stroke="#2d4579"/>
<rect x="184.7" y="523.1" width="7.6" height="7.6" stroke="#2d4579"/>
<rect x="189.7" y="522.7" width="7.6" height="7.6" stroke="#2d4579"/>
<rect x="195.5" y="522.4" width="7.6" height="7.6" stroke="#2d4579"/>
<rect x="200.1" y="523.3" width="7.6" height="7.6" stroke="#2d4579"/>
<rect x="186.7" y="528.1" width="7.6" height="7.6" stroke="#2d4579"/>
<rect x="192.6" y="527.8" width="7.6" height="7.6" stroke="#2d4579"/>
<rect x="198.4" y="528.4" width="7.6" height="7.6" stroke="#2d4579"/>
<rect x="188.2" y="534.4" width="7.6" height="7.6" stroke="#2d4579"/>
<rect x="192.6" y="533.7" width="7.6" height="7.6" stroke="#2d4579"/>
<rect x="197.4" y="534.1" width="7.6" height="7.6" stroke="#2d4579"/>
<rect x="192.2" y="459.7" width="7.6" height="7.6" stroke="#2d4579"/>
<rect x="197.9" y="467.3" width="7.6" height="7.6" stroke="#2d4579"/>
<rect x="186.5" y="473.9" width="7.6" height="7.6" stroke="#2d4579"/>
<rect x="180.8" y="483.4" width="7.6" height="7.6" stroke="#2d4579"/>
<rect x="204.5" y="486.7" width="7.6" height="7.6" stroke="#2d4579"/>
<rect x="186.5" y="495.2" width="7.6" height="7.6" stroke="#2d4579"/>
<rect x="198.8" y="495.2" width="7.6" height="7.6" stroke="#2d4579"/>
<rect x="200.7" y="538.3" width="7.6" height="7.6" stroke="#2d4579"/>
<rect x="185.6" y="544.0" width="7.6" height="7.6" stroke="#2d4579"/>
<rect x="193.1" y="547.8" width="7.6" height="7.6" stroke="#2d4579"/>
<rect x="198.8" y="549.7" width="7.6" height="7.6" stroke="#2d4579"/>
<rect x="186.5" y="561.0" width="7.6" height="7.6" stroke="#2d4579"/>
<line x1="196.50" y1="504.90" x2="196.50" y2="533.70" stroke="#222" stroke-width="1.4"/>
<line x1="190.00" y1="504.90" x2="203.00" y2="504.90" stroke="#222" stroke-width="1.4"/>
<line x1="190.00" y1="533.70" x2="203.00" y2="533.70" stroke="#222" stroke-width="1.4"/>
<line x1="183.50" y1="522.60" x2="209.50" y2="522.60" stroke="#222" stroke-width="1.7"/>
<path d="M235.7 496.8L240.1 501.2L235.7 505.6L231.3 501.2Z" stroke="#961b3c" stroke-width="1.6"/>
<path d="M229.8 525.1L234.2 529.5L229.8 533.9L225.4 529.5Z" stroke="#961b3c" stroke-width="1.6"/>
<path d="M241.7 523.1L246.1 527.5L241.7 531.9L237.3 527.5Z" stroke="#961b3c" stroke-width="1.6"/>
<path d="M228.0 534.6L232.4 539.0L228.0 543.4L223.6 539.0Z" stroke="#961b3c" stroke-width="1.6"/>
<path d="M232.0 534.6L236.4 539.0L232.0 543.4L227.6 539.0Z" stroke="#961b3c" stroke-width="1.6"/>
<path d="M236.0 534.6L240.4 539.0L236.0 543.4L231.6 539.0Z" stroke="#961b3c" stroke-width="1.6"/>
<path d="M240.0 534.6L244.4 539.0L240.0 543.4L235.6 539.0Z" stroke="#961b3c" stroke-width="1.6"/>
<path d="M244.0 534.6L248.4 539.0L244.0 543.4L239.6 539.0Z" stroke="#961b3c" stroke-width="1.6"/>
<path d="M232.0 536.6L236.4 541.0L232.0 545.4L227.6 541.0Z" stroke="#961b3c" stroke-width="1.6"/>
<path d="M236.0 536.6L240.4 541.0L236.0 545.4L231.6 541.0Z" stroke="#961b3c" stroke-width="1.6"/>
<path d="M240.0 536.6L244.4 541.0L240.0 545.4L235.6 541.0Z" stroke="#961b3c" stroke-width="1.6"/>
<path d="M234.0 538.6L238.4 543.0L234.0 547.4L229.6 543.0Z" stroke="#961b3c" stroke-width="1.6"/>
<path d="M238.0 538.6L242.4 543.0L238.0 547.4L233.6 543.0Z" stroke="#961b3c" stroke-width="1.6"/>
<path d="M236.0 539.1L240.4 543.5L236.0 547.9L231.6 543.5Z" stroke="#961b3c" stroke-width="1.6"/>
<path d="M235.7 560.4L240.1 564.8L235.7 569.2L231.3 564.8Z" stroke="#961b3c" stroke-width="1.6"/>
<line x1="235.70" y1="530.80" x2="235.70" y2="543.00" stroke="#222" stroke-width="1.4"/>
<line x1="232.40" y1="530.80" x2="239.00" y2="530.80" stroke="#222" stroke-width="1.4"/>
<line x1="232.40" y1="543.00" x2="239.00" y2="543.00" stroke="#222" stroke-width="1.4"/>
<line x1="223.20" y1="540.00" x2="248.20" y2="540.00" stroke="#222" stroke-width="1.7"/>
<text x="7.20" y="424.40" font-size="13" text-anchor="start" font-weight="bold" fill="#000" stroke="#000" stroke-width="0.35">E</text>
<line x1="59.30" y1="432.40" x2="59.30" y2="565.35" stroke="#222" stroke-width="1.3"/>
<line x1="58.70" y1="564.75" x2="253.80" y2="564.75" stroke="#222" stroke-width="1.3"/>
<line x1="56.10" y1="564.75" x2="59.30" y2="564.75" stroke="#222" stroke-width="1.2"/>
<text x="52.60" y="568.35" font-size="8.9" text-anchor="end" font-weight="normal" fill="#333" >0</text>
<line x1="56.10" y1="521.47" x2="59.30" y2="521.47" stroke="#222" stroke-width="1.2"/>
<text x="52.60" y="525.07" font-size="8.9" text-anchor="end" font-weight="normal" fill="#333" >500</text>
<line x1="56.10" y1="478.18" x2="59.30" y2="478.18" stroke="#222" stroke-width="1.2"/>
<text x="52.60" y="481.78" font-size="8.9" text-anchor="end" font-weight="normal" fill="#333" >1000</text>
<line x1="56.10" y1="434.90" x2="59.30" y2="434.90" stroke="#222" stroke-width="1.2"/>
<text x="52.60" y="438.50" font-size="8.9" text-anchor="end" font-weight="normal" fill="#333" >1500</text>
<line x1="78.70" y1="564.75" x2="78.70" y2="567.75" stroke="#222" stroke-width="1.2"/>
<text x="78.70" y="578.60" font-size="8.9" text-anchor="middle" font-weight="normal" fill="#333" >C</text>
<line x1="117.60" y1="564.75" x2="117.60" y2="567.75" stroke="#222" stroke-width="1.2"/>
<text x="117.60" y="578.60" font-size="8.9" text-anchor="middle" font-weight="normal" fill="#333" >NB</text>
<line x1="157.00" y1="564.75" x2="157.00" y2="567.75" stroke="#222" stroke-width="1.2"/>
<text x="157.00" y="578.60" font-size="8.9" text-anchor="middle" font-weight="normal" fill="#333" >B</text>
<line x1="196.30" y1="564.75" x2="196.30" y2="567.75" stroke="#222" stroke-width="1.2"/>
<text x="196.30" y="578.60" font-size="8.9" text-anchor="middle" font-weight="normal" fill="#333" >NB</text>
<line x1="235.30" y1="564.75" x2="235.30" y2="567.75" stroke="#222" stroke-width="1.2"/>
<text x="235.30" y="578.60" font-size="8.9" text-anchor="middle" font-weight="normal" fill="#333" >B</text>
<line x1="177.20" y1="434.90" x2="177.20" y2="564.75" stroke="#222" stroke-width="1.3"/>
<line x1="75.00" y1="584.10" x2="159.70" y2="584.10" stroke="#222" stroke-width="1.3"/>
<text x="117.60" y="597.30" font-size="8.35" text-anchor="middle" font-weight="normal" fill="#333" >All Samples</text>
<line x1="187.50" y1="584.10" x2="239.20" y2="584.10" stroke="#222" stroke-width="1.3"/>
<text x="213.40" y="597.30" font-size="8.35" text-anchor="middle" font-weight="normal" fill="#333" >Partial Deficiency</text>
<text transform="translate(27.30,498.25) rotate(-90)" font-size="9.4" text-anchor="middle" fill="#333" stroke="#333" stroke-width="0.35" textLength="66.5" lengthAdjust="spacingAndGlyphs">Area under the curve</text>
<line x1="69.50" y1="440.50" x2="166.10" y2="440.50" stroke="#222" stroke-width="1.3"/>
<circle cx="115.2" cy="433.8" r="1.15" fill="#222"/>
<circle cx="118.7" cy="433.8" r="1.15" fill="#222"/>
<line x1="123.80" y1="450.80" x2="166.10" y2="450.80" stroke="#222" stroke-width="1.3"/>
<circle cx="145.8" cy="445.7" r="1.15" fill="#222"/>
<line x1="195.80" y1="451.00" x2="238.70" y2="451.00" stroke="#222" stroke-width="1.3"/>
<circle cx="218.4" cy="446.1" r="1.15" fill="#222"/>
<path d="M327.2 499.0L327.2 500.0L326.7 507.0L325.7 515.0L327.7 522.0L330.7 530.0L330.7 532.0L344.3 532.0L344.3 530.0L347.3 522.0L349.3 515.0L348.3 507.0L347.8 500.0L347.8 499.0Z" fill="#82bf64" stroke="#82bf64" stroke-width="1.5" stroke-linejoin="round" opacity="1.0"/>
<circle cx="331.2" cy="484.1" r="3.7" stroke="#66a64a"/>
<circle cx="336.8" cy="483.8" r="3.7" stroke="#66a64a"/>
<circle cx="343.8" cy="484.0" r="3.7" stroke="#66a64a"/>
<circle cx="330.5" cy="488.7" r="3.7" stroke="#66a64a"/>
<circle cx="336.8" cy="488.5" r="3.7" stroke="#66a64a"/>
<circle cx="344.6" cy="489.1" r="3.7" stroke="#66a64a"/>
<circle cx="330.1" cy="493.6" r="3.7" stroke="#66a64a"/>
<circle cx="337.9" cy="493.2" r="3.7" stroke="#66a64a"/>
<circle cx="344.3" cy="493.1" r="3.7" stroke="#66a64a"/>
<circle cx="329.4" cy="497.8" r="3.7" stroke="#66a64a"/>
<circle cx="338.1" cy="497.9" r="3.7" stroke="#66a64a"/>
<circle cx="345.8" cy="497.6" r="3.7" stroke="#66a64a"/>
<circle cx="329.6" cy="501.6" r="3.7" stroke="#66a64a"/>
<circle cx="344.6" cy="501.7" r="3.7" stroke="#66a64a"/>
<circle cx="339.3" cy="501.3" r="3.7" stroke="#66a64a"/>
<circle cx="330.5" cy="505.5" r="3.7" stroke="#66a64a"/>
<circle cx="345.9" cy="505.5" r="3.7" stroke="#66a64a"/>
<circle cx="329.7" cy="510.6" r="3.7" stroke="#66a64a"/>
<circle cx="345.0" cy="509.7" r="3.7" stroke="#66a64a"/>
<circle cx="340.6" cy="509.9" r="3.7" stroke="#66a64a"/>
<circle cx="328.7" cy="515.2" r="3.7" stroke="#66a64a"/>
<circle cx="346.4" cy="514.1" r="3.7" stroke="#66a64a"/>
<circle cx="330.5" cy="518.9" r="3.7" stroke="#66a64a"/>
<circle cx="344.0" cy="518.9" r="3.7" stroke="#66a64a"/>
<circle cx="338.3" cy="518.8" r="3.7" stroke="#66a64a"/>
<circle cx="331.4" cy="522.9" r="3.7" stroke="#66a64a"/>
<circle cx="342.4" cy="523.2" r="3.7" stroke="#66a64a"/>
<circle cx="334.2" cy="527.2" r="3.7" stroke="#66a64a"/>
<circle cx="341.0" cy="528.4" r="3.7" stroke="#66a64a"/>
<circle cx="337.3" cy="453.2" r="3.7" stroke="#66a64a"/>
<circle cx="343.0" cy="463.1" r="3.7" stroke="#66a64a"/>
<circle cx="331.5" cy="470.5" r="3.7" stroke="#66a64a"/>
<circle cx="340.6" cy="473.0" r="3.7" stroke="#66a64a"/>
<circle cx="334.0" cy="475.4" r="3.7" stroke="#66a64a"/>
<circle cx="330.7" cy="485.3" r="3.7" stroke="#66a64a"/>
<circle cx="343.0" cy="486.1" r="3.7" stroke="#66a64a"/>
<circle cx="331.5" cy="489.4" r="3.7" stroke="#66a64a"/>
<circle cx="343.8" cy="489.4" r="3.7" stroke="#66a64a"/>
<circle cx="337.3" cy="536.3" r="3.7" stroke="#66a64a"/>
<line x1="337.50" y1="499.50" x2="337.50" y2="519.50" stroke="#222" stroke-width="1.4"/>
<line x1="331.00" y1="499.50" x2="344.00" y2="499.50" stroke="#222" stroke-width="1.4"/>
<line x1="331.00" y1="519.50" x2="344.00" y2="519.50" stroke="#222" stroke-width="1.4"/>
<line x1="324.50" y1="513.30" x2="350.50" y2="513.30" stroke="#222" stroke-width="1.7"/>
<path d="M365.3 514.0L365.1 516.0L364.6 525.0L367.6 532.0L372.1 538.0L381.7 538.0L386.2 532.0L389.2 525.0L388.7 516.0L388.4 514.0Z" fill="#42619d" stroke="#42619d" stroke-width="1.5" stroke-linejoin="round" opacity="1.0"/>
<rect x="366.5" y="493.2" width="7.6" height="7.6" stroke="#2d4579"/>
<rect x="380.1" y="492.3" width="7.6" height="7.6" stroke="#2d4579"/>
<rect x="366.2" y="496.8" width="7.6" height="7.6" stroke="#2d4579"/>
<rect x="373.4" y="496.6" width="7.6" height="7.6" stroke="#2d4579"/>
<rect x="380.0" y="496.6" width="7.6" height="7.6" stroke="#2d4579"/>
<rect x="365.6" y="501.6" width="7.6" height="7.6" stroke="#2d4579"/>
<rect x="373.2" y="501.2" width="7.6" height="7.6" stroke="#2d4579"/>
<rect x="381.0" y="501.2" width="7.6" height="7.6" stroke="#2d4579"/>
<rect x="365.0" y="506.1" width="7.6" height="7.6" stroke="#2d4579"/>
<rect x="372.6" y="505.8" width="7.6" height="7.6" stroke="#2d4579"/>
<rect x="381.9" y="506.1" width="7.6" height="7.6" stroke="#2d4579"/>
<rect x="364.2" y="510.7" width="7.6" height="7.6" stroke="#2d4579"/>
<rect x="370.9" y="509.5" width="7.6" height="7.6" stroke="#2d4579"/>
<rect x="375.5" y="509.6" width="7.6" height="7.6" stroke="#2d4579"/>
<rect x="380.7" y="510.7" width="7.6" height="7.6" stroke="#2d4579"/>
<rect x="364.1" y="514.9" width="7.6" height="7.6" stroke="#2d4579"/>
<rect x="381.3" y="513.7" width="7.6" height="7.6" stroke="#2d4579"/>
<rect x="364.5" y="519.5" width="7.6" height="7.6" stroke="#2d4579"/>
<rect x="382.5" y="518.8" width="7.6" height="7.6" stroke="#2d4579"/>
<rect x="370.5" y="518.2" width="7.6" height="7.6" stroke="#2d4579"/>
<rect x="365.7" y="523.1" width="7.6" height="7.6" stroke="#2d4579"/>
<rect x="380.0" y="523.3" width="7.6" height="7.6" stroke="#2d4579"/>
<rect x="368.1" y="527.6" width="7.6" height="7.6" stroke="#2d4579"/>
<rect x="378.2" y="527.7" width="7.6" height="7.6" stroke="#2d4579"/>
<rect x="373.4" y="527.9" width="7.6" height="7.6" stroke="#2d4579"/>
<rect x="371.6" y="531.7" width="7.6" height="7.6" stroke="#2d4579"/>
<rect x="375.3" y="531.7" width="7.6" height="7.6" stroke="#2d4579"/>
<rect x="365.5" y="449.4" width="7.6" height="7.6" stroke="#2d4579"/>
<rect x="372.7" y="457.6" width="7.6" height="7.6" stroke="#2d4579"/>
<rect x="379.9" y="453.5" width="7.6" height="7.6" stroke="#2d4579"/>
<rect x="365.5" y="534.6" width="7.6" height="7.6" stroke="#2d4579"/>
<rect x="377.8" y="543.9" width="7.6" height="7.6" stroke="#2d4579"/>
<rect x="373.1" y="560.3" width="7.6" height="7.6" stroke="#2d4579"/>
<line x1="376.90" y1="502.70" x2="376.90" y2="527.00" stroke="#222" stroke-width="1.4"/>
<line x1="370.40" y1="502.70" x2="383.40" y2="502.70" stroke="#222" stroke-width="1.4"/>
<line x1="370.40" y1="527.00" x2="383.40" y2="527.00" stroke="#222" stroke-width="1.4"/>
<line x1="363.90" y1="523.00" x2="389.90" y2="523.00" stroke="#222" stroke-width="1.7"/>
<path d="M421.9 479.2L426.3 483.6L421.9 488.0L417.5 483.6Z" stroke="#961b3c" stroke-width="1.6"/>
<path d="M410.4 491.4L414.8 495.8L410.4 500.2L406.0 495.8Z" stroke="#961b3c" stroke-width="1.6"/>
<path d="M416.2 505.3L420.6 509.7L416.2 514.1L411.8 509.7Z" stroke="#961b3c" stroke-width="1.6"/>
<path d="M409.9 511.5L414.3 515.9L409.9 520.3L405.5 515.9Z" stroke="#961b3c" stroke-width="1.6"/>
<path d="M421.9 509.9L426.3 514.3L421.9 518.7L417.5 514.3Z" stroke="#961b3c" stroke-width="1.6"/>
<path d="M412.2 519.8L416.6 524.2L412.2 528.6L407.8 524.2Z" stroke="#961b3c" stroke-width="1.6"/>
<path d="M409.2 527.2L413.6 531.6L409.2 536.0L404.8 531.6Z" stroke="#961b3c" stroke-width="1.6"/>
<path d="M423.1 524.4L427.5 528.8L423.1 533.2L418.7 528.8Z" stroke="#961b3c" stroke-width="1.6"/>
<path d="M416.2 528.8L420.6 533.2L416.2 537.6L411.8 533.2Z" stroke="#961b3c" stroke-width="1.6"/>
<path d="M416.2 533.7L420.6 538.1L416.2 542.5L411.8 538.1Z" stroke="#961b3c" stroke-width="1.6"/>
<path d="M409.0 559.9L413.4 564.3L409.0 568.7L404.6 564.3Z" stroke="#961b3c" stroke-width="1.6"/>
<path d="M412.0 559.9L416.4 564.3L412.0 568.7L407.6 564.3Z" stroke="#961b3c" stroke-width="1.6"/>
<path d="M415.0 559.9L419.4 564.3L415.0 568.7L410.6 564.3Z" stroke="#961b3c" stroke-width="1.6"/>
<path d="M418.0 559.9L422.4 564.3L418.0 568.7L413.6 564.3Z" stroke="#961b3c" stroke-width="1.6"/>
<path d="M421.5 559.9L425.9 564.3L421.5 568.7L417.1 564.3Z" stroke="#961b3c" stroke-width="1.6"/>
<line x1="416.20" y1="514.80" x2="416.20" y2="564.50" stroke="#222" stroke-width="1.4"/>
<line x1="409.20" y1="514.80" x2="423.20" y2="514.80" stroke="#222" stroke-width="1.4"/>
<line x1="409.20" y1="564.50" x2="423.20" y2="564.50" stroke="#222" stroke-width="1.4"/>
<line x1="403.30" y1="533.10" x2="429.10" y2="533.10" stroke="#222" stroke-width="1.7"/>
<path d="M443.6 514.0L443.1 516.0L442.6 525.0L445.6 532.0L450.1 538.0L459.7 538.0L464.2 532.0L467.2 525.0L466.7 516.0L466.2 514.0Z" fill="#42619d" stroke="#42619d" stroke-width="1.5" stroke-linejoin="round" opacity="1.0"/>
<rect x="444.0" y="492.2" width="7.6" height="7.6" stroke="#2d4579"/>
<rect x="450.6" y="492.6" width="7.6" height="7.6" stroke="#2d4579"/>
<rect x="458.6" y="493.2" width="7.6" height="7.6" stroke="#2d4579"/>
<rect x="443.6" y="496.5" width="7.6" height="7.6" stroke="#2d4579"/>
<rect x="451.0" y="496.5" width="7.6" height="7.6" stroke="#2d4579"/>
<rect x="458.4" y="496.6" width="7.6" height="7.6" stroke="#2d4579"/>
<rect x="443.7" y="500.8" width="7.6" height="7.6" stroke="#2d4579"/>
<rect x="451.3" y="501.3" width="7.6" height="7.6" stroke="#2d4579"/>
<rect x="459.8" y="500.6" width="7.6" height="7.6" stroke="#2d4579"/>
<rect x="443.1" y="505.7" width="7.6" height="7.6" stroke="#2d4579"/>
<rect x="451.3" y="505.3" width="7.6" height="7.6" stroke="#2d4579"/>
<rect x="458.6" y="505.5" width="7.6" height="7.6" stroke="#2d4579"/>
<rect x="442.7" y="509.4" width="7.6" height="7.6" stroke="#2d4579"/>
<rect x="448.5" y="509.4" width="7.6" height="7.6" stroke="#2d4579"/>
<rect x="453.7" y="509.5" width="7.6" height="7.6" stroke="#2d4579"/>
<rect x="459.4" y="509.9" width="7.6" height="7.6" stroke="#2d4579"/>
<rect x="442.4" y="513.7" width="7.6" height="7.6" stroke="#2d4579"/>
<rect x="459.7" y="514.2" width="7.6" height="7.6" stroke="#2d4579"/>
<rect x="441.8" y="519.0" width="7.6" height="7.6" stroke="#2d4579"/>
<rect x="460.8" y="518.9" width="7.6" height="7.6" stroke="#2d4579"/>
<rect x="453.6" y="518.4" width="7.6" height="7.6" stroke="#2d4579"/>
<rect x="443.5" y="523.3" width="7.6" height="7.6" stroke="#2d4579"/>
<rect x="457.9" y="522.6" width="7.6" height="7.6" stroke="#2d4579"/>
<rect x="446.1" y="527.1" width="7.6" height="7.6" stroke="#2d4579"/>
<rect x="455.2" y="527.9" width="7.6" height="7.6" stroke="#2d4579"/>
<rect x="450.8" y="527.5" width="7.6" height="7.6" stroke="#2d4579"/>
<rect x="449.0" y="532.2" width="7.6" height="7.6" stroke="#2d4579"/>
<rect x="453.5" y="531.5" width="7.6" height="7.6" stroke="#2d4579"/>
<rect x="443.5" y="449.4" width="7.6" height="7.6" stroke="#2d4579"/>
<rect x="450.7" y="457.6" width="7.6" height="7.6" stroke="#2d4579"/>
<rect x="457.9" y="453.5" width="7.6" height="7.6" stroke="#2d4579"/>
<rect x="443.5" y="534.6" width="7.6" height="7.6" stroke="#2d4579"/>
<rect x="455.8" y="543.9" width="7.6" height="7.6" stroke="#2d4579"/>
<rect x="451.1" y="560.3" width="7.6" height="7.6" stroke="#2d4579"/>
<line x1="454.90" y1="504.90" x2="454.90" y2="526.80" stroke="#222" stroke-width="1.4"/>
<line x1="448.40" y1="504.90" x2="461.40" y2="504.90" stroke="#222" stroke-width="1.4"/>
<line x1="448.40" y1="526.80" x2="461.40" y2="526.80" stroke="#222" stroke-width="1.4"/>
<line x1="442.10" y1="521.00" x2="467.70" y2="521.00" stroke="#222" stroke-width="1.7"/>
<path d="M494.5 479.7L498.9 484.1L494.5 488.5L490.1 484.1Z" stroke="#961b3c" stroke-width="1.6"/>
<path d="M494.5 505.1L498.9 509.5L494.5 513.9L490.1 509.5Z" stroke="#961b3c" stroke-width="1.6"/>
<path d="M488.1 511.3L492.5 515.7L488.1 520.1L483.7 515.7Z" stroke="#961b3c" stroke-width="1.6"/>
<path d="M500.3 509.0L504.7 513.4L500.3 517.8L495.9 513.4Z" stroke="#961b3c" stroke-width="1.6"/>
<path d="M491.0 518.9L495.4 523.3L491.0 527.7L486.6 523.3Z" stroke="#961b3c" stroke-width="1.6"/>
<path d="M488.1 524.2L492.5 528.6L488.1 533.0L483.7 528.6Z" stroke="#961b3c" stroke-width="1.6"/>
<path d="M492.2 530.4L496.6 534.8L492.2 539.2L487.8 534.8Z" stroke="#961b3c" stroke-width="1.6"/>
<path d="M500.3 530.4L504.7 534.8L500.3 539.2L495.9 534.8Z" stroke="#961b3c" stroke-width="1.6"/>
<path d="M498.0 533.9L502.4 538.3L498.0 542.7L493.6 538.3Z" stroke="#961b3c" stroke-width="1.6"/>
<path d="M494.5 559.7L498.9 564.1L494.5 568.5L490.1 564.1Z" stroke="#961b3c" stroke-width="1.6"/>
<path d="M500.0 519.6L504.4 524.0L500.0 528.4L495.6 524.0Z" stroke="#961b3c" stroke-width="1.6"/>
<line x1="494.50" y1="513.40" x2="494.50" y2="532.50" stroke="#222" stroke-width="1.4"/>
<line x1="487.50" y1="513.40" x2="501.50" y2="513.40" stroke="#222" stroke-width="1.4"/>
<line x1="487.50" y1="532.50" x2="501.50" y2="532.50" stroke="#222" stroke-width="1.4"/>
<line x1="481.50" y1="524.00" x2="507.50" y2="524.00" stroke="#222" stroke-width="1.7"/>
<text x="273.20" y="424.40" font-size="13" text-anchor="start" font-weight="bold" fill="#000" stroke="#000" stroke-width="0.35">F</text>
<line x1="318.30" y1="432.40" x2="318.30" y2="565.35" stroke="#222" stroke-width="1.3"/>
<line x1="317.70" y1="564.75" x2="512.80" y2="564.75" stroke="#222" stroke-width="1.3"/>
<line x1="315.10" y1="564.75" x2="318.30" y2="564.75" stroke="#222" stroke-width="1.2"/>
<text x="311.60" y="568.35" font-size="8.9" text-anchor="end" font-weight="normal" fill="#333" >0</text>
<line x1="315.10" y1="532.29" x2="318.30" y2="532.29" stroke="#222" stroke-width="1.2"/>
<text x="311.60" y="535.89" font-size="8.9" text-anchor="end" font-weight="normal" fill="#333" >15</text>
<line x1="315.10" y1="499.82" x2="318.30" y2="499.82" stroke="#222" stroke-width="1.2"/>
<text x="311.60" y="503.43" font-size="8.9" text-anchor="end" font-weight="normal" fill="#333" >30</text>
<line x1="315.10" y1="467.36" x2="318.30" y2="467.36" stroke="#222" stroke-width="1.2"/>
<text x="311.60" y="470.96" font-size="8.9" text-anchor="end" font-weight="normal" fill="#333" >45</text>
<line x1="315.10" y1="434.90" x2="318.30" y2="434.90" stroke="#222" stroke-width="1.2"/>
<text x="311.60" y="438.50" font-size="8.9" text-anchor="end" font-weight="normal" fill="#333" >60</text>
<line x1="337.70" y1="564.75" x2="337.70" y2="567.75" stroke="#222" stroke-width="1.2"/>
<text x="337.70" y="578.60" font-size="8.9" text-anchor="middle" font-weight="normal" fill="#333" >C</text>
<line x1="376.60" y1="564.75" x2="376.60" y2="567.75" stroke="#222" stroke-width="1.2"/>
<text x="376.60" y="578.60" font-size="8.9" text-anchor="middle" font-weight="normal" fill="#333" >NB</text>
<line x1="416.00" y1="564.75" x2="416.00" y2="567.75" stroke="#222" stroke-width="1.2"/>
<text x="416.00" y="578.60" font-size="8.9" text-anchor="middle" font-weight="normal" fill="#333" >B</text>
<line x1="455.30" y1="564.75" x2="455.30" y2="567.75" stroke="#222" stroke-width="1.2"/>
<text x="455.30" y="578.60" font-size="8.9" text-anchor="middle" font-weight="normal" fill="#333" >NB</text>
<line x1="494.30" y1="564.75" x2="494.30" y2="567.75" stroke="#222" stroke-width="1.2"/>
<text x="494.30" y="578.60" font-size="8.9" text-anchor="middle" font-weight="normal" fill="#333" >B</text>
<line x1="436.20" y1="434.90" x2="436.20" y2="564.75" stroke="#222" stroke-width="1.3"/>
<line x1="334.00" y1="584.10" x2="418.70" y2="584.10" stroke="#222" stroke-width="1.3"/>
<text x="376.60" y="597.30" font-size="8.35" text-anchor="middle" font-weight="normal" fill="#333" >All Samples</text>
<line x1="446.50" y1="584.10" x2="498.20" y2="584.10" stroke="#222" stroke-width="1.3"/>
<text x="472.40" y="597.30" font-size="8.35" text-anchor="middle" font-weight="normal" fill="#333" >Partial Deficiency</text>
<text transform="translate(295.80,498.10) rotate(-90)" font-size="9.4" text-anchor="middle" fill="#333" stroke="#333" stroke-width="0.35" textLength="50.75" lengthAdjust="spacingAndGlyphs">Lysis time (min)</text>
<line x1="328.75" y1="440.50" x2="423.80" y2="440.50" stroke="#222" stroke-width="1.3"/>
<circle cx="373.9" cy="435.5" r="1.15" fill="#222"/>
<circle cx="377.4" cy="435.5" r="1.15" fill="#222"/>
<line x1="381.50" y1="450.80" x2="423.80" y2="450.80" stroke="#222" stroke-width="1.3"/>
<circle cx="403.9" cy="446.2" r="1.15" fill="#222"/>
<rect x="1.5" y="1.5" width="517" height="605" fill="none" stroke="#7a7a7a" stroke-width="1"/>
<rect x="0.5" y="0.5" width="519" height="607" fill="none" stroke="#000" stroke-width="1"/>
</g>
</svg></body></html>
